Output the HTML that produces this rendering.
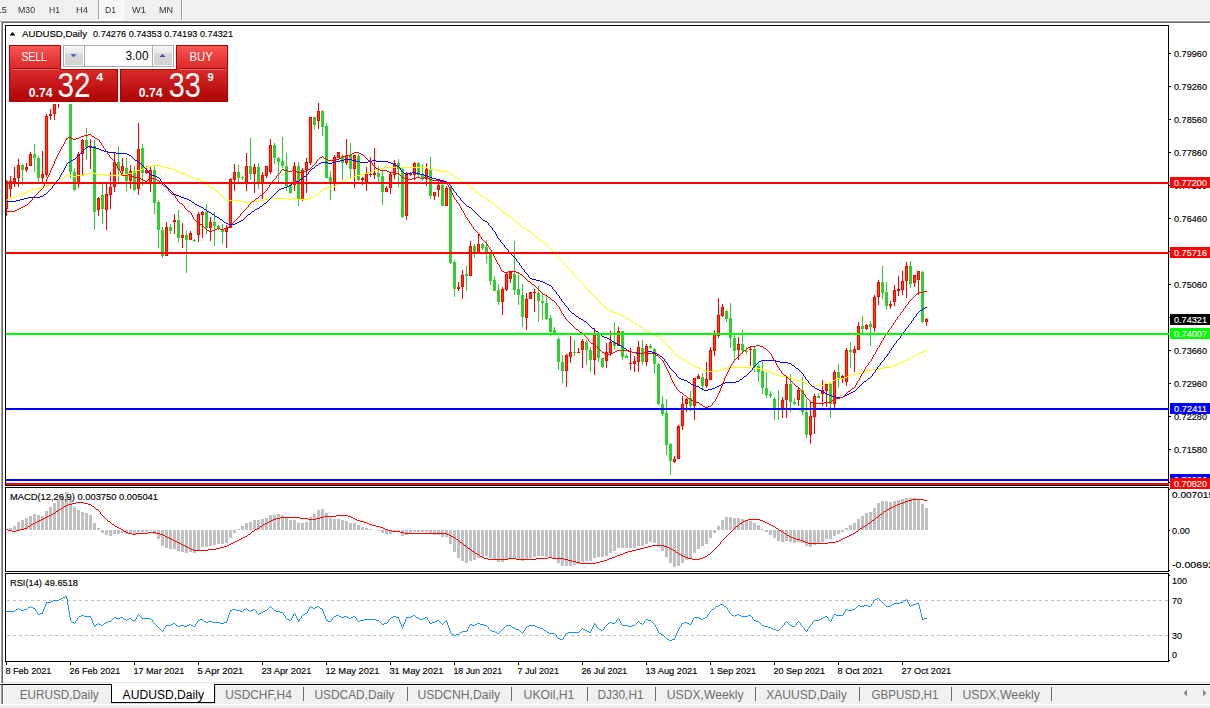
<!DOCTYPE html>
<html><head><meta charset="utf-8"><title>AUDUSD,Daily</title>
<style>
html,body{margin:0;padding:0;background:#F0F0F0;overflow:hidden;}
svg{display:block;font-family:"Liberation Sans",Arial,sans-serif;}
</style></head><body>
<svg width="1210" height="708" viewBox="0 0 1210 708">
<rect x="0" y="0" width="1210" height="708" fill="#F0F0F0"/>
<defs><pattern id="chk" width="2" height="2" patternUnits="userSpaceOnUse"><rect width="2" height="2" fill="#F0F0F0"/><rect width="1" height="1" fill="#fff"/><rect x="1" y="1" width="1" height="1" fill="#fff"/></pattern><linearGradient id="gtab" x1="0" y1="0" x2="0" y2="1"><stop offset="0" stop-color="#F95656"/><stop offset="1" stop-color="#D92424"/></linearGradient><linearGradient id="gbox" x1="0" y1="0" x2="0" y2="1"><stop offset="0" stop-color="#D92A2A"/><stop offset="1" stop-color="#AE0404"/></linearGradient><linearGradient id="gbtn" x1="0" y1="0" x2="0" y2="1"><stop offset="0" stop-color="#F2F2F2"/><stop offset="0.33" stop-color="#EAEAEA"/><stop offset="0.34" stop-color="#DADADA"/><stop offset="1" stop-color="#D2D2D2"/></linearGradient><filter id="gray" x="-10%" y="-10%" width="120%" height="120%"><feColorMatrix type="saturate" values="0"/></filter><linearGradient id="garr" x1="0" y1="0" x2="0" y2="1"><stop offset="0" stop-color="#5A7BE0"/><stop offset="1" stop-color="#2E3F8F"/></linearGradient></defs>
<rect x="99" y="0" width="24" height="19" fill="url(#chk)"/>
<rect x="98" y="0" width="1" height="19" fill="#A0A0A0"/>
<rect x="123" y="0" width="1" height="20" fill="#FFFFFF"/>
<rect x="99" y="19" width="25" height="1" fill="#FFFFFF"/>
<rect x="181" y="0" width="1" height="21" fill="#A0A0A0"/>
<rect x="182" y="0" width="1" height="21" fill="#FFFFFF"/>
<rect x="0" y="20" width="1210" height="1" fill="#F6F6F6"/>
<text x="-11" y="13" font-size="9.5" fill="#333" textLength="18" lengthAdjust="spacingAndGlyphs" filter="url(#gray)">M15</text>
<text x="18" y="13" font-size="9.5" fill="#333" textLength="17" lengthAdjust="spacingAndGlyphs" filter="url(#gray)">M30</text>
<text x="49" y="13" font-size="9.5" fill="#333" textLength="11" lengthAdjust="spacingAndGlyphs" filter="url(#gray)">H1</text>
<text x="76" y="13" font-size="9.5" fill="#333" textLength="12" lengthAdjust="spacingAndGlyphs" filter="url(#gray)">H4</text>
<text x="105" y="13" font-size="9.5" fill="#333" textLength="11" lengthAdjust="spacingAndGlyphs" filter="url(#gray)">D1</text>
<text x="132" y="13" font-size="9.5" fill="#333" textLength="14" lengthAdjust="spacingAndGlyphs" filter="url(#gray)">W1</text>
<text x="159" y="13" font-size="9.5" fill="#333" textLength="14" lengthAdjust="spacingAndGlyphs" filter="url(#gray)">MN</text>
<rect x="0" y="21" width="1210" height="1" fill="#A0A0A0"/>
<rect x="1" y="22" width="1209" height="1" fill="#696969"/>
<rect x="1" y="21" width="1" height="662" fill="#A0A0A0"/>
<rect x="2" y="22" width="1" height="661" fill="#696969"/>
<rect x="0" y="22" width="1" height="662" fill="#FFFFFF"/>
<rect x="3" y="23" width="1207" height="659" fill="#FFFFFF"/>
<rect x="3" y="682" width="1207" height="1" fill="#E3E3E3"/>
<rect x="0" y="683" width="1210" height="1" fill="#FFFFFF"/>
<rect x="5" y="25" width="1164" height="1" fill="#000"/>
<rect x="5" y="25" width="1" height="461" fill="#000"/>
<rect x="1168" y="25" width="1" height="461" fill="#000"/>
<rect x="5" y="485" width="1164" height="1" fill="#000"/>
<rect x="5" y="487" width="1164" height="1" fill="#000"/>
<rect x="5" y="571" width="1164" height="1" fill="#000"/>
<rect x="5" y="487" width="1" height="85" fill="#000"/>
<rect x="1168" y="487" width="1" height="85" fill="#000"/>
<rect x="5" y="573" width="1164" height="1" fill="#000"/>
<rect x="5" y="661" width="1164" height="1" fill="#000"/>
<rect x="5" y="573" width="1" height="89" fill="#000"/>
<rect x="1168" y="573" width="1" height="89" fill="#000"/>
<clipPath id="cmain"><rect x="6" y="26" width="1162" height="459"/></clipPath>
<clipPath id="cmacd"><rect x="6" y="488" width="1162" height="83"/></clipPath>
<clipPath id="crsi"><rect x="6" y="574" width="1162" height="87"/></clipPath>
<g clip-path="url(#cmain)" shape-rendering="crispEdges">
<rect x="6" y="180" width="1" height="36" fill="#FF0000"/>
<rect x="5" y="181" width="3" height="28" fill="#FF0000"/>
<rect x="6" y="182" width="1" height="26" fill="#FF4500"/>
<rect x="10" y="176" width="1" height="21" fill="#FF0000"/>
<rect x="9" y="181" width="3" height="8" fill="#FF0000"/>
<rect x="10" y="182" width="1" height="6" fill="#FF4500"/>
<rect x="14" y="167" width="1" height="20" fill="#FF0000"/>
<rect x="13" y="178" width="3" height="4" fill="#FF0000"/>
<rect x="14" y="179" width="1" height="2" fill="#FF4500"/>
<rect x="18" y="159" width="1" height="28" fill="#FF0000"/>
<rect x="17" y="165" width="3" height="13" fill="#FF0000"/>
<rect x="18" y="166" width="1" height="11" fill="#FF4500"/>
<rect x="22" y="164" width="1" height="21" fill="#32CD32"/>
<rect x="21" y="165" width="3" height="5" fill="#32CD32"/>
<rect x="26" y="163" width="1" height="9" fill="#FF0000"/>
<rect x="25" y="167" width="3" height="3" fill="#FF0000"/>
<rect x="26" y="168" width="1" height="1" fill="#FF4500"/>
<rect x="30" y="152" width="1" height="14" fill="#FF0000"/>
<rect x="29" y="154" width="3" height="12" fill="#FF0000"/>
<rect x="30" y="155" width="1" height="10" fill="#FF4500"/>
<rect x="34" y="144" width="1" height="28" fill="#32CD32"/>
<rect x="33" y="154" width="3" height="4" fill="#32CD32"/>
<rect x="38" y="156" width="1" height="27" fill="#32CD32"/>
<rect x="37" y="158" width="3" height="20" fill="#32CD32"/>
<rect x="42" y="151" width="1" height="33" fill="#FF0000"/>
<rect x="41" y="174" width="3" height="4" fill="#FF0000"/>
<rect x="42" y="175" width="1" height="2" fill="#FF4500"/>
<rect x="46" y="114" width="1" height="63" fill="#FF0000"/>
<rect x="45" y="116" width="3" height="59" fill="#FF0000"/>
<rect x="46" y="117" width="1" height="57" fill="#FF4500"/>
<rect x="50" y="109" width="1" height="11" fill="#FF0000"/>
<rect x="49" y="114" width="3" height="2" fill="#FF0000"/>
<rect x="54" y="100" width="1" height="20" fill="#FF0000"/>
<rect x="53" y="102" width="3" height="12" fill="#FF0000"/>
<rect x="54" y="103" width="1" height="10" fill="#FF4500"/>
<rect x="58" y="95" width="1" height="13" fill="#FF0000"/>
<rect x="57" y="100" width="3" height="3" fill="#FF0000"/>
<rect x="58" y="101" width="1" height="1" fill="#FF4500"/>
<rect x="62" y="76" width="1" height="26" fill="#FF0000"/>
<rect x="61" y="82" width="3" height="18" fill="#FF0000"/>
<rect x="62" y="83" width="1" height="16" fill="#FF4500"/>
<rect x="66" y="60" width="1" height="28" fill="#FF0000"/>
<rect x="65" y="67" width="3" height="15" fill="#FF0000"/>
<rect x="66" y="68" width="1" height="13" fill="#FF4500"/>
<rect x="70" y="60" width="1" height="118" fill="#32CD32"/>
<rect x="69" y="67" width="3" height="105" fill="#32CD32"/>
<rect x="74" y="168" width="1" height="23" fill="#32CD32"/>
<rect x="73" y="172" width="3" height="18" fill="#32CD32"/>
<rect x="78" y="152" width="1" height="36" fill="#FF0000"/>
<rect x="77" y="154" width="3" height="30" fill="#FF0000"/>
<rect x="78" y="155" width="1" height="28" fill="#FF4500"/>
<rect x="82" y="139" width="1" height="37" fill="#FF0000"/>
<rect x="81" y="140" width="3" height="14" fill="#FF0000"/>
<rect x="82" y="141" width="1" height="12" fill="#FF4500"/>
<rect x="86" y="128" width="1" height="32" fill="#32CD32"/>
<rect x="85" y="140" width="3" height="7" fill="#32CD32"/>
<rect x="90" y="139" width="1" height="30" fill="#FF0000"/>
<rect x="89" y="146" width="3" height="2" fill="#FF0000"/>
<rect x="94" y="140" width="1" height="90" fill="#32CD32"/>
<rect x="93" y="146" width="3" height="66" fill="#32CD32"/>
<rect x="98" y="197" width="1" height="19" fill="#FF0000"/>
<rect x="97" y="198" width="3" height="12" fill="#FF0000"/>
<rect x="98" y="199" width="1" height="10" fill="#FF4500"/>
<rect x="102" y="183" width="1" height="41" fill="#32CD32"/>
<rect x="101" y="195" width="3" height="14" fill="#32CD32"/>
<rect x="106" y="183" width="1" height="47" fill="#FF0000"/>
<rect x="105" y="194" width="3" height="16" fill="#FF0000"/>
<rect x="106" y="195" width="1" height="14" fill="#FF4500"/>
<rect x="110" y="172" width="1" height="37" fill="#FF0000"/>
<rect x="109" y="187" width="3" height="8" fill="#FF0000"/>
<rect x="110" y="188" width="1" height="6" fill="#FF4500"/>
<rect x="114" y="153" width="1" height="39" fill="#FF0000"/>
<rect x="113" y="162" width="3" height="25" fill="#FF0000"/>
<rect x="114" y="163" width="1" height="23" fill="#FF4500"/>
<rect x="118" y="146" width="1" height="36" fill="#32CD32"/>
<rect x="117" y="162" width="3" height="8" fill="#32CD32"/>
<rect x="122" y="158" width="1" height="16" fill="#FF0000"/>
<rect x="121" y="166" width="3" height="5" fill="#FF0000"/>
<rect x="122" y="167" width="1" height="3" fill="#FF4500"/>
<rect x="126" y="158" width="1" height="33" fill="#32CD32"/>
<rect x="125" y="168" width="3" height="13" fill="#32CD32"/>
<rect x="130" y="165" width="1" height="24" fill="#FF0000"/>
<rect x="129" y="171" width="3" height="10" fill="#FF0000"/>
<rect x="130" y="172" width="1" height="8" fill="#FF4500"/>
<rect x="134" y="166" width="1" height="25" fill="#32CD32"/>
<rect x="133" y="171" width="3" height="19" fill="#32CD32"/>
<rect x="138" y="123" width="1" height="72" fill="#FF0000"/>
<rect x="137" y="149" width="3" height="40" fill="#FF0000"/>
<rect x="138" y="150" width="1" height="38" fill="#FF4500"/>
<rect x="142" y="144" width="1" height="42" fill="#32CD32"/>
<rect x="141" y="148" width="3" height="25" fill="#32CD32"/>
<rect x="146" y="166" width="1" height="8" fill="#FF0000"/>
<rect x="145" y="170" width="3" height="3" fill="#FF0000"/>
<rect x="146" y="171" width="1" height="1" fill="#FF4500"/>
<rect x="150" y="167" width="1" height="25" fill="#FF0000"/>
<rect x="149" y="170" width="3" height="13" fill="#FF0000"/>
<rect x="150" y="171" width="1" height="11" fill="#FF4500"/>
<rect x="154" y="166" width="1" height="48" fill="#32CD32"/>
<rect x="153" y="170" width="3" height="33" fill="#32CD32"/>
<rect x="158" y="200" width="1" height="48" fill="#32CD32"/>
<rect x="157" y="202" width="3" height="28" fill="#32CD32"/>
<rect x="162" y="227" width="1" height="31" fill="#32CD32"/>
<rect x="161" y="230" width="3" height="26" fill="#32CD32"/>
<rect x="166" y="222" width="1" height="34" fill="#FF0000"/>
<rect x="165" y="227" width="3" height="29" fill="#FF0000"/>
<rect x="166" y="228" width="1" height="27" fill="#FF4500"/>
<rect x="170" y="224" width="1" height="10" fill="#32CD32"/>
<rect x="169" y="227" width="3" height="4" fill="#32CD32"/>
<rect x="174" y="214" width="1" height="20" fill="#FF0000"/>
<rect x="173" y="220" width="3" height="2" fill="#FF0000"/>
<rect x="178" y="210" width="1" height="32" fill="#32CD32"/>
<rect x="177" y="220" width="3" height="18" fill="#32CD32"/>
<rect x="182" y="223" width="1" height="25" fill="#FF0000"/>
<rect x="181" y="235" width="3" height="3" fill="#FF0000"/>
<rect x="182" y="236" width="1" height="1" fill="#FF4500"/>
<rect x="186" y="231" width="1" height="42" fill="#32CD32"/>
<rect x="185" y="235" width="3" height="5" fill="#32CD32"/>
<rect x="190" y="231" width="1" height="9" fill="#FF0000"/>
<rect x="189" y="233" width="3" height="7" fill="#FF0000"/>
<rect x="190" y="234" width="1" height="5" fill="#FF4500"/>
<rect x="194" y="239" width="1" height="3" fill="#32CD32"/>
<rect x="193" y="240" width="3" height="1" fill="#32CD32"/>
<rect x="198" y="212" width="1" height="30" fill="#FF0000"/>
<rect x="197" y="214" width="3" height="21" fill="#FF0000"/>
<rect x="198" y="215" width="1" height="19" fill="#FF4500"/>
<rect x="202" y="211" width="1" height="27" fill="#FF0000"/>
<rect x="201" y="212" width="3" height="3" fill="#FF0000"/>
<rect x="202" y="213" width="1" height="1" fill="#FF4500"/>
<rect x="206" y="204" width="1" height="30" fill="#32CD32"/>
<rect x="205" y="212" width="3" height="16" fill="#32CD32"/>
<rect x="210" y="217" width="1" height="24" fill="#FF0000"/>
<rect x="209" y="222" width="3" height="6" fill="#FF0000"/>
<rect x="210" y="223" width="1" height="4" fill="#FF4500"/>
<rect x="214" y="212" width="1" height="34" fill="#32CD32"/>
<rect x="213" y="222" width="3" height="4" fill="#32CD32"/>
<rect x="218" y="225" width="1" height="5" fill="#32CD32"/>
<rect x="217" y="226" width="3" height="3" fill="#32CD32"/>
<rect x="222" y="224" width="1" height="20" fill="#32CD32"/>
<rect x="221" y="230" width="3" height="2" fill="#32CD32"/>
<rect x="226" y="225" width="1" height="23" fill="#FF0000"/>
<rect x="225" y="228" width="3" height="4" fill="#FF0000"/>
<rect x="226" y="229" width="1" height="2" fill="#FF4500"/>
<rect x="230" y="178" width="1" height="50" fill="#FF0000"/>
<rect x="229" y="179" width="3" height="49" fill="#FF0000"/>
<rect x="230" y="180" width="1" height="47" fill="#FF4500"/>
<rect x="234" y="164" width="1" height="27" fill="#FF0000"/>
<rect x="233" y="172" width="3" height="8" fill="#FF0000"/>
<rect x="234" y="173" width="1" height="6" fill="#FF4500"/>
<rect x="238" y="165" width="1" height="17" fill="#32CD32"/>
<rect x="237" y="172" width="3" height="6" fill="#32CD32"/>
<rect x="242" y="176" width="1" height="4" fill="#32CD32"/>
<rect x="241" y="177" width="3" height="1" fill="#32CD32"/>
<rect x="246" y="153" width="1" height="38" fill="#FF0000"/>
<rect x="245" y="166" width="3" height="16" fill="#FF0000"/>
<rect x="246" y="167" width="1" height="14" fill="#FF4500"/>
<rect x="250" y="138" width="1" height="42" fill="#32CD32"/>
<rect x="249" y="166" width="3" height="8" fill="#32CD32"/>
<rect x="254" y="164" width="1" height="29" fill="#FF0000"/>
<rect x="253" y="167" width="3" height="7" fill="#FF0000"/>
<rect x="254" y="168" width="1" height="5" fill="#FF4500"/>
<rect x="258" y="163" width="1" height="26" fill="#32CD32"/>
<rect x="257" y="167" width="3" height="16" fill="#32CD32"/>
<rect x="262" y="172" width="1" height="27" fill="#FF0000"/>
<rect x="261" y="175" width="3" height="9" fill="#FF0000"/>
<rect x="262" y="176" width="1" height="7" fill="#FF4500"/>
<rect x="266" y="166" width="1" height="12" fill="#FF0000"/>
<rect x="265" y="166" width="3" height="10" fill="#FF0000"/>
<rect x="266" y="167" width="1" height="8" fill="#FF4500"/>
<rect x="270" y="139" width="1" height="35" fill="#FF0000"/>
<rect x="269" y="145" width="3" height="27" fill="#FF0000"/>
<rect x="270" y="146" width="1" height="25" fill="#FF4500"/>
<rect x="274" y="143" width="1" height="21" fill="#32CD32"/>
<rect x="273" y="145" width="3" height="13" fill="#32CD32"/>
<rect x="278" y="157" width="1" height="25" fill="#32CD32"/>
<rect x="277" y="158" width="3" height="4" fill="#32CD32"/>
<rect x="282" y="137" width="1" height="31" fill="#32CD32"/>
<rect x="281" y="161" width="3" height="5" fill="#32CD32"/>
<rect x="286" y="153" width="1" height="38" fill="#32CD32"/>
<rect x="285" y="166" width="3" height="20" fill="#32CD32"/>
<rect x="290" y="184" width="1" height="10" fill="#32CD32"/>
<rect x="289" y="185" width="3" height="8" fill="#32CD32"/>
<rect x="294" y="162" width="1" height="29" fill="#FF0000"/>
<rect x="293" y="166" width="3" height="19" fill="#FF0000"/>
<rect x="294" y="167" width="1" height="17" fill="#FF4500"/>
<rect x="298" y="162" width="1" height="44" fill="#32CD32"/>
<rect x="297" y="166" width="3" height="34" fill="#32CD32"/>
<rect x="302" y="168" width="1" height="33" fill="#FF0000"/>
<rect x="301" y="170" width="3" height="30" fill="#FF0000"/>
<rect x="302" y="171" width="1" height="28" fill="#FF4500"/>
<rect x="306" y="158" width="1" height="35" fill="#FF0000"/>
<rect x="305" y="162" width="3" height="8" fill="#FF0000"/>
<rect x="306" y="163" width="1" height="6" fill="#FF4500"/>
<rect x="310" y="117" width="1" height="48" fill="#FF0000"/>
<rect x="309" y="117" width="3" height="46" fill="#FF0000"/>
<rect x="310" y="118" width="1" height="44" fill="#FF4500"/>
<rect x="314" y="117" width="1" height="12" fill="#32CD32"/>
<rect x="313" y="117" width="3" height="8" fill="#32CD32"/>
<rect x="318" y="103" width="1" height="26" fill="#FF0000"/>
<rect x="317" y="111" width="3" height="10" fill="#FF0000"/>
<rect x="318" y="112" width="1" height="8" fill="#FF4500"/>
<rect x="322" y="110" width="1" height="26" fill="#32CD32"/>
<rect x="321" y="111" width="3" height="16" fill="#32CD32"/>
<rect x="326" y="123" width="1" height="55" fill="#32CD32"/>
<rect x="325" y="126" width="3" height="52" fill="#32CD32"/>
<rect x="330" y="171" width="1" height="29" fill="#32CD32"/>
<rect x="329" y="177" width="3" height="7" fill="#32CD32"/>
<rect x="334" y="155" width="1" height="36" fill="#FF0000"/>
<rect x="333" y="157" width="3" height="26" fill="#FF0000"/>
<rect x="334" y="158" width="1" height="24" fill="#FF4500"/>
<rect x="338" y="152" width="1" height="6" fill="#FF0000"/>
<rect x="337" y="152" width="3" height="6" fill="#FF0000"/>
<rect x="338" y="153" width="1" height="4" fill="#FF4500"/>
<rect x="342" y="154" width="1" height="26" fill="#32CD32"/>
<rect x="341" y="156" width="3" height="7" fill="#32CD32"/>
<rect x="346" y="139" width="1" height="26" fill="#FF0000"/>
<rect x="345" y="155" width="3" height="8" fill="#FF0000"/>
<rect x="346" y="156" width="1" height="6" fill="#FF4500"/>
<rect x="350" y="143" width="1" height="35" fill="#32CD32"/>
<rect x="349" y="155" width="3" height="14" fill="#32CD32"/>
<rect x="354" y="155" width="1" height="33" fill="#FF0000"/>
<rect x="353" y="155" width="3" height="14" fill="#FF0000"/>
<rect x="354" y="156" width="1" height="12" fill="#FF4500"/>
<rect x="358" y="154" width="1" height="27" fill="#32CD32"/>
<rect x="357" y="156" width="3" height="24" fill="#32CD32"/>
<rect x="362" y="177" width="1" height="8" fill="#FF0000"/>
<rect x="361" y="178" width="3" height="2" fill="#FF0000"/>
<rect x="366" y="167" width="1" height="24" fill="#FF0000"/>
<rect x="365" y="174" width="3" height="8" fill="#FF0000"/>
<rect x="366" y="175" width="1" height="6" fill="#FF4500"/>
<rect x="370" y="157" width="1" height="20" fill="#FF0000"/>
<rect x="369" y="174" width="3" height="1" fill="#FF0000"/>
<rect x="374" y="148" width="1" height="31" fill="#FF0000"/>
<rect x="373" y="173" width="3" height="2" fill="#FF0000"/>
<rect x="378" y="166" width="1" height="17" fill="#32CD32"/>
<rect x="377" y="173" width="3" height="4" fill="#32CD32"/>
<rect x="382" y="171" width="1" height="34" fill="#32CD32"/>
<rect x="381" y="176" width="3" height="16" fill="#32CD32"/>
<rect x="386" y="186" width="1" height="6" fill="#FF0000"/>
<rect x="385" y="188" width="3" height="4" fill="#FF0000"/>
<rect x="386" y="189" width="1" height="2" fill="#FF4500"/>
<rect x="390" y="172" width="1" height="22" fill="#FF0000"/>
<rect x="389" y="174" width="3" height="14" fill="#FF0000"/>
<rect x="390" y="175" width="1" height="12" fill="#FF4500"/>
<rect x="394" y="160" width="1" height="19" fill="#FF0000"/>
<rect x="393" y="163" width="3" height="12" fill="#FF0000"/>
<rect x="394" y="164" width="1" height="10" fill="#FF4500"/>
<rect x="398" y="159" width="1" height="28" fill="#32CD32"/>
<rect x="397" y="163" width="3" height="6" fill="#32CD32"/>
<rect x="402" y="167" width="1" height="51" fill="#32CD32"/>
<rect x="401" y="169" width="3" height="48" fill="#32CD32"/>
<rect x="406" y="172" width="1" height="48" fill="#FF0000"/>
<rect x="405" y="173" width="3" height="43" fill="#FF0000"/>
<rect x="406" y="174" width="1" height="41" fill="#FF4500"/>
<rect x="410" y="172" width="1" height="4" fill="#FF0000"/>
<rect x="409" y="173" width="3" height="2" fill="#FF0000"/>
<rect x="414" y="162" width="1" height="18" fill="#FF0000"/>
<rect x="413" y="163" width="3" height="12" fill="#FF0000"/>
<rect x="414" y="164" width="1" height="10" fill="#FF4500"/>
<rect x="418" y="162" width="1" height="16" fill="#32CD32"/>
<rect x="417" y="163" width="3" height="12" fill="#32CD32"/>
<rect x="422" y="164" width="1" height="17" fill="#32CD32"/>
<rect x="421" y="174" width="3" height="5" fill="#32CD32"/>
<rect x="426" y="163" width="1" height="23" fill="#FF0000"/>
<rect x="425" y="169" width="3" height="10" fill="#FF0000"/>
<rect x="426" y="170" width="1" height="8" fill="#FF4500"/>
<rect x="430" y="157" width="1" height="42" fill="#32CD32"/>
<rect x="429" y="169" width="3" height="27" fill="#32CD32"/>
<rect x="434" y="192" width="1" height="8" fill="#FF0000"/>
<rect x="433" y="192" width="3" height="4" fill="#FF0000"/>
<rect x="434" y="193" width="1" height="2" fill="#FF4500"/>
<rect x="438" y="181" width="1" height="16" fill="#FF0000"/>
<rect x="437" y="185" width="3" height="5" fill="#FF0000"/>
<rect x="438" y="186" width="1" height="3" fill="#FF4500"/>
<rect x="442" y="184" width="1" height="22" fill="#32CD32"/>
<rect x="441" y="185" width="3" height="21" fill="#32CD32"/>
<rect x="446" y="186" width="1" height="20" fill="#FF0000"/>
<rect x="445" y="188" width="3" height="18" fill="#FF0000"/>
<rect x="446" y="189" width="1" height="16" fill="#FF4500"/>
<rect x="450" y="186" width="1" height="78" fill="#32CD32"/>
<rect x="449" y="188" width="3" height="75" fill="#32CD32"/>
<rect x="454" y="260" width="1" height="37" fill="#32CD32"/>
<rect x="453" y="262" width="3" height="27" fill="#32CD32"/>
<rect x="458" y="282" width="1" height="9" fill="#FF0000"/>
<rect x="457" y="287" width="3" height="2" fill="#FF0000"/>
<rect x="462" y="270" width="1" height="29" fill="#FF0000"/>
<rect x="461" y="275" width="3" height="12" fill="#FF0000"/>
<rect x="462" y="276" width="1" height="10" fill="#FF4500"/>
<rect x="466" y="266" width="1" height="25" fill="#32CD32"/>
<rect x="465" y="274" width="3" height="2" fill="#32CD32"/>
<rect x="470" y="241" width="1" height="35" fill="#FF0000"/>
<rect x="469" y="246" width="3" height="30" fill="#FF0000"/>
<rect x="470" y="247" width="1" height="28" fill="#FF4500"/>
<rect x="474" y="244" width="1" height="14" fill="#32CD32"/>
<rect x="473" y="246" width="3" height="7" fill="#32CD32"/>
<rect x="478" y="233" width="1" height="20" fill="#FF0000"/>
<rect x="477" y="244" width="3" height="9" fill="#FF0000"/>
<rect x="478" y="245" width="1" height="7" fill="#FF4500"/>
<rect x="482" y="243" width="1" height="7" fill="#32CD32"/>
<rect x="481" y="244" width="3" height="4" fill="#32CD32"/>
<rect x="486" y="240" width="1" height="23" fill="#32CD32"/>
<rect x="485" y="247" width="3" height="7" fill="#32CD32"/>
<rect x="490" y="253" width="1" height="32" fill="#32CD32"/>
<rect x="489" y="253" width="3" height="28" fill="#32CD32"/>
<rect x="494" y="276" width="1" height="15" fill="#32CD32"/>
<rect x="493" y="280" width="3" height="11" fill="#32CD32"/>
<rect x="498" y="284" width="1" height="21" fill="#32CD32"/>
<rect x="497" y="290" width="3" height="12" fill="#32CD32"/>
<rect x="502" y="287" width="1" height="28" fill="#FF0000"/>
<rect x="501" y="289" width="3" height="13" fill="#FF0000"/>
<rect x="502" y="290" width="1" height="11" fill="#FF4500"/>
<rect x="506" y="273" width="1" height="18" fill="#FF0000"/>
<rect x="505" y="274" width="3" height="16" fill="#FF0000"/>
<rect x="506" y="275" width="1" height="14" fill="#FF4500"/>
<rect x="510" y="272" width="1" height="11" fill="#FF0000"/>
<rect x="509" y="272" width="3" height="7" fill="#FF0000"/>
<rect x="510" y="273" width="1" height="5" fill="#FF4500"/>
<rect x="514" y="241" width="1" height="54" fill="#32CD32"/>
<rect x="513" y="274" width="3" height="16" fill="#32CD32"/>
<rect x="518" y="272" width="1" height="33" fill="#32CD32"/>
<rect x="517" y="289" width="3" height="6" fill="#32CD32"/>
<rect x="522" y="284" width="1" height="43" fill="#32CD32"/>
<rect x="521" y="295" width="3" height="22" fill="#32CD32"/>
<rect x="526" y="293" width="1" height="37" fill="#FF0000"/>
<rect x="525" y="299" width="3" height="19" fill="#FF0000"/>
<rect x="526" y="300" width="1" height="17" fill="#FF4500"/>
<rect x="530" y="292" width="1" height="7" fill="#FF0000"/>
<rect x="529" y="292" width="3" height="7" fill="#FF0000"/>
<rect x="530" y="293" width="1" height="5" fill="#FF4500"/>
<rect x="534" y="289" width="1" height="23" fill="#FF0000"/>
<rect x="533" y="292" width="3" height="1" fill="#FF0000"/>
<rect x="538" y="286" width="1" height="36" fill="#32CD32"/>
<rect x="537" y="293" width="3" height="8" fill="#32CD32"/>
<rect x="542" y="294" width="1" height="26" fill="#32CD32"/>
<rect x="541" y="301" width="3" height="2" fill="#32CD32"/>
<rect x="546" y="294" width="1" height="26" fill="#32CD32"/>
<rect x="545" y="303" width="3" height="16" fill="#32CD32"/>
<rect x="550" y="315" width="1" height="21" fill="#32CD32"/>
<rect x="549" y="318" width="3" height="14" fill="#32CD32"/>
<rect x="554" y="327" width="1" height="8" fill="#32CD32"/>
<rect x="553" y="330" width="3" height="4" fill="#32CD32"/>
<rect x="558" y="337" width="1" height="33" fill="#32CD32"/>
<rect x="557" y="339" width="3" height="23" fill="#32CD32"/>
<rect x="562" y="355" width="1" height="28" fill="#32CD32"/>
<rect x="561" y="362" width="3" height="9" fill="#32CD32"/>
<rect x="566" y="354" width="1" height="33" fill="#FF0000"/>
<rect x="565" y="355" width="3" height="16" fill="#FF0000"/>
<rect x="566" y="356" width="1" height="14" fill="#FF4500"/>
<rect x="570" y="336" width="1" height="27" fill="#FF0000"/>
<rect x="569" y="352" width="3" height="5" fill="#FF0000"/>
<rect x="570" y="353" width="1" height="3" fill="#FF4500"/>
<rect x="574" y="340" width="1" height="16" fill="#32CD32"/>
<rect x="573" y="352" width="3" height="1" fill="#32CD32"/>
<rect x="578" y="348" width="1" height="5" fill="#FF0000"/>
<rect x="577" y="352" width="3" height="1" fill="#FF0000"/>
<rect x="582" y="339" width="1" height="29" fill="#FF0000"/>
<rect x="581" y="341" width="3" height="9" fill="#FF0000"/>
<rect x="582" y="342" width="1" height="7" fill="#FF4500"/>
<rect x="586" y="340" width="1" height="25" fill="#32CD32"/>
<rect x="585" y="342" width="3" height="8" fill="#32CD32"/>
<rect x="590" y="347" width="1" height="25" fill="#32CD32"/>
<rect x="589" y="350" width="3" height="10" fill="#32CD32"/>
<rect x="594" y="328" width="1" height="47" fill="#FF0000"/>
<rect x="593" y="334" width="3" height="26" fill="#FF0000"/>
<rect x="594" y="335" width="1" height="24" fill="#FF4500"/>
<rect x="598" y="332" width="1" height="30" fill="#32CD32"/>
<rect x="597" y="334" width="3" height="24" fill="#32CD32"/>
<rect x="602" y="358" width="1" height="10" fill="#32CD32"/>
<rect x="601" y="358" width="3" height="9" fill="#32CD32"/>
<rect x="606" y="343" width="1" height="25" fill="#FF0000"/>
<rect x="605" y="352" width="3" height="9" fill="#FF0000"/>
<rect x="606" y="353" width="1" height="7" fill="#FF4500"/>
<rect x="610" y="331" width="1" height="25" fill="#FF0000"/>
<rect x="609" y="342" width="3" height="11" fill="#FF0000"/>
<rect x="610" y="343" width="1" height="9" fill="#FF4500"/>
<rect x="614" y="322" width="1" height="28" fill="#32CD32"/>
<rect x="613" y="342" width="3" height="4" fill="#32CD32"/>
<rect x="618" y="327" width="1" height="19" fill="#FF0000"/>
<rect x="617" y="331" width="3" height="15" fill="#FF0000"/>
<rect x="618" y="332" width="1" height="13" fill="#FF4500"/>
<rect x="622" y="331" width="1" height="29" fill="#32CD32"/>
<rect x="621" y="331" width="3" height="26" fill="#32CD32"/>
<rect x="626" y="354" width="1" height="4" fill="#32CD32"/>
<rect x="625" y="356" width="3" height="2" fill="#32CD32"/>
<rect x="630" y="348" width="1" height="22" fill="#FF0000"/>
<rect x="629" y="363" width="3" height="1" fill="#FF0000"/>
<rect x="634" y="356" width="1" height="16" fill="#FF0000"/>
<rect x="633" y="361" width="3" height="3" fill="#FF0000"/>
<rect x="634" y="362" width="1" height="1" fill="#FF4500"/>
<rect x="638" y="341" width="1" height="31" fill="#FF0000"/>
<rect x="637" y="347" width="3" height="15" fill="#FF0000"/>
<rect x="638" y="348" width="1" height="13" fill="#FF4500"/>
<rect x="642" y="340" width="1" height="25" fill="#32CD32"/>
<rect x="641" y="348" width="3" height="14" fill="#32CD32"/>
<rect x="646" y="344" width="1" height="22" fill="#FF0000"/>
<rect x="645" y="346" width="3" height="16" fill="#FF0000"/>
<rect x="646" y="347" width="1" height="14" fill="#FF4500"/>
<rect x="650" y="344" width="1" height="5" fill="#32CD32"/>
<rect x="649" y="346" width="3" height="2" fill="#32CD32"/>
<rect x="654" y="348" width="1" height="26" fill="#32CD32"/>
<rect x="653" y="349" width="3" height="15" fill="#32CD32"/>
<rect x="658" y="363" width="1" height="42" fill="#32CD32"/>
<rect x="657" y="364" width="3" height="40" fill="#32CD32"/>
<rect x="662" y="396" width="1" height="20" fill="#32CD32"/>
<rect x="661" y="404" width="3" height="10" fill="#32CD32"/>
<rect x="666" y="399" width="1" height="56" fill="#32CD32"/>
<rect x="665" y="413" width="3" height="32" fill="#32CD32"/>
<rect x="670" y="443" width="1" height="32" fill="#32CD32"/>
<rect x="669" y="444" width="3" height="17" fill="#32CD32"/>
<rect x="674" y="456" width="1" height="7" fill="#FF0000"/>
<rect x="673" y="459" width="3" height="3" fill="#FF0000"/>
<rect x="674" y="460" width="1" height="1" fill="#FF4500"/>
<rect x="678" y="425" width="1" height="34" fill="#FF0000"/>
<rect x="677" y="426" width="3" height="33" fill="#FF0000"/>
<rect x="678" y="427" width="1" height="31" fill="#FF4500"/>
<rect x="682" y="396" width="1" height="34" fill="#FF0000"/>
<rect x="681" y="404" width="3" height="22" fill="#FF0000"/>
<rect x="682" y="405" width="1" height="20" fill="#FF4500"/>
<rect x="686" y="398" width="1" height="14" fill="#FF0000"/>
<rect x="685" y="399" width="3" height="5" fill="#FF0000"/>
<rect x="686" y="400" width="1" height="3" fill="#FF4500"/>
<rect x="690" y="391" width="1" height="20" fill="#32CD32"/>
<rect x="689" y="398" width="3" height="8" fill="#32CD32"/>
<rect x="694" y="378" width="1" height="42" fill="#FF0000"/>
<rect x="693" y="378" width="3" height="28" fill="#FF0000"/>
<rect x="694" y="379" width="1" height="26" fill="#FF4500"/>
<rect x="698" y="374" width="1" height="5" fill="#FF0000"/>
<rect x="697" y="376" width="3" height="3" fill="#FF0000"/>
<rect x="698" y="377" width="1" height="1" fill="#FF4500"/>
<rect x="702" y="373" width="1" height="17" fill="#32CD32"/>
<rect x="701" y="377" width="3" height="9" fill="#32CD32"/>
<rect x="706" y="362" width="1" height="26" fill="#FF0000"/>
<rect x="705" y="379" width="3" height="7" fill="#FF0000"/>
<rect x="706" y="380" width="1" height="5" fill="#FF4500"/>
<rect x="710" y="347" width="1" height="33" fill="#FF0000"/>
<rect x="709" y="350" width="3" height="30" fill="#FF0000"/>
<rect x="710" y="351" width="1" height="28" fill="#FF4500"/>
<rect x="714" y="330" width="1" height="26" fill="#FF0000"/>
<rect x="713" y="334" width="3" height="17" fill="#FF0000"/>
<rect x="714" y="335" width="1" height="15" fill="#FF4500"/>
<rect x="718" y="298" width="1" height="40" fill="#FF0000"/>
<rect x="717" y="315" width="3" height="21" fill="#FF0000"/>
<rect x="718" y="316" width="1" height="19" fill="#FF4500"/>
<rect x="722" y="304" width="1" height="13" fill="#FF0000"/>
<rect x="721" y="307" width="3" height="9" fill="#FF0000"/>
<rect x="722" y="308" width="1" height="7" fill="#FF4500"/>
<rect x="726" y="310" width="1" height="12" fill="#32CD32"/>
<rect x="725" y="311" width="3" height="8" fill="#32CD32"/>
<rect x="730" y="303" width="1" height="45" fill="#32CD32"/>
<rect x="729" y="318" width="3" height="20" fill="#32CD32"/>
<rect x="734" y="333" width="1" height="28" fill="#32CD32"/>
<rect x="733" y="338" width="3" height="13" fill="#32CD32"/>
<rect x="738" y="337" width="1" height="23" fill="#FF0000"/>
<rect x="737" y="344" width="3" height="6" fill="#FF0000"/>
<rect x="738" y="345" width="1" height="4" fill="#FF4500"/>
<rect x="742" y="330" width="1" height="24" fill="#32CD32"/>
<rect x="741" y="344" width="3" height="7" fill="#32CD32"/>
<rect x="746" y="347" width="1" height="7" fill="#32CD32"/>
<rect x="745" y="351" width="3" height="1" fill="#32CD32"/>
<rect x="750" y="346" width="1" height="20" fill="#FF0000"/>
<rect x="749" y="349" width="3" height="1" fill="#FF0000"/>
<rect x="754" y="347" width="1" height="25" fill="#32CD32"/>
<rect x="753" y="349" width="3" height="18" fill="#32CD32"/>
<rect x="758" y="364" width="1" height="18" fill="#32CD32"/>
<rect x="757" y="366" width="3" height="6" fill="#32CD32"/>
<rect x="762" y="360" width="1" height="34" fill="#32CD32"/>
<rect x="761" y="371" width="3" height="17" fill="#32CD32"/>
<rect x="766" y="372" width="1" height="26" fill="#32CD32"/>
<rect x="765" y="388" width="3" height="7" fill="#32CD32"/>
<rect x="770" y="391" width="1" height="7" fill="#32CD32"/>
<rect x="769" y="394" width="3" height="2" fill="#32CD32"/>
<rect x="774" y="397" width="1" height="23" fill="#32CD32"/>
<rect x="773" y="399" width="3" height="9" fill="#32CD32"/>
<rect x="778" y="390" width="1" height="30" fill="#32CD32"/>
<rect x="777" y="408" width="3" height="2" fill="#32CD32"/>
<rect x="782" y="397" width="1" height="21" fill="#FF0000"/>
<rect x="781" y="400" width="3" height="10" fill="#FF0000"/>
<rect x="782" y="401" width="1" height="8" fill="#FF4500"/>
<rect x="786" y="376" width="1" height="42" fill="#FF0000"/>
<rect x="785" y="384" width="3" height="16" fill="#FF0000"/>
<rect x="786" y="385" width="1" height="14" fill="#FF4500"/>
<rect x="790" y="374" width="1" height="38" fill="#32CD32"/>
<rect x="789" y="384" width="3" height="18" fill="#32CD32"/>
<rect x="794" y="398" width="1" height="7" fill="#32CD32"/>
<rect x="793" y="402" width="3" height="2" fill="#32CD32"/>
<rect x="798" y="387" width="1" height="19" fill="#FF0000"/>
<rect x="797" y="390" width="3" height="10" fill="#FF0000"/>
<rect x="798" y="391" width="1" height="8" fill="#FF4500"/>
<rect x="802" y="377" width="1" height="38" fill="#32CD32"/>
<rect x="801" y="390" width="3" height="22" fill="#32CD32"/>
<rect x="806" y="399" width="1" height="39" fill="#32CD32"/>
<rect x="805" y="412" width="3" height="23" fill="#32CD32"/>
<rect x="810" y="402" width="1" height="42" fill="#FF0000"/>
<rect x="809" y="416" width="3" height="19" fill="#FF0000"/>
<rect x="810" y="417" width="1" height="17" fill="#FF4500"/>
<rect x="814" y="394" width="1" height="40" fill="#FF0000"/>
<rect x="813" y="396" width="3" height="21" fill="#FF0000"/>
<rect x="814" y="397" width="1" height="19" fill="#FF4500"/>
<rect x="818" y="393" width="1" height="5" fill="#32CD32"/>
<rect x="817" y="396" width="3" height="2" fill="#32CD32"/>
<rect x="822" y="380" width="1" height="26" fill="#FF0000"/>
<rect x="821" y="390" width="3" height="4" fill="#FF0000"/>
<rect x="822" y="391" width="1" height="2" fill="#FF4500"/>
<rect x="826" y="383" width="1" height="24" fill="#FF0000"/>
<rect x="825" y="384" width="3" height="7" fill="#FF0000"/>
<rect x="826" y="385" width="1" height="5" fill="#FF4500"/>
<rect x="830" y="382" width="1" height="36" fill="#32CD32"/>
<rect x="829" y="384" width="3" height="20" fill="#32CD32"/>
<rect x="834" y="370" width="1" height="38" fill="#FF0000"/>
<rect x="833" y="372" width="3" height="32" fill="#FF0000"/>
<rect x="834" y="373" width="1" height="30" fill="#FF4500"/>
<rect x="838" y="364" width="1" height="24" fill="#32CD32"/>
<rect x="837" y="372" width="3" height="6" fill="#32CD32"/>
<rect x="842" y="375" width="1" height="8" fill="#FF0000"/>
<rect x="841" y="376" width="3" height="2" fill="#FF0000"/>
<rect x="846" y="348" width="1" height="38" fill="#FF0000"/>
<rect x="845" y="350" width="3" height="32" fill="#FF0000"/>
<rect x="846" y="351" width="1" height="30" fill="#FF4500"/>
<rect x="850" y="342" width="1" height="26" fill="#32CD32"/>
<rect x="849" y="350" width="3" height="2" fill="#32CD32"/>
<rect x="854" y="346" width="1" height="26" fill="#FF0000"/>
<rect x="853" y="349" width="3" height="4" fill="#FF0000"/>
<rect x="854" y="350" width="1" height="2" fill="#FF4500"/>
<rect x="858" y="322" width="1" height="28" fill="#FF0000"/>
<rect x="857" y="326" width="3" height="24" fill="#FF0000"/>
<rect x="858" y="327" width="1" height="22" fill="#FF4500"/>
<rect x="862" y="316" width="1" height="18" fill="#32CD32"/>
<rect x="861" y="326" width="3" height="3" fill="#32CD32"/>
<rect x="866" y="324" width="1" height="6" fill="#FF0000"/>
<rect x="865" y="325" width="3" height="4" fill="#FF0000"/>
<rect x="866" y="326" width="1" height="2" fill="#FF4500"/>
<rect x="870" y="321" width="1" height="25" fill="#32CD32"/>
<rect x="869" y="324" width="3" height="3" fill="#32CD32"/>
<rect x="874" y="295" width="1" height="37" fill="#FF0000"/>
<rect x="873" y="297" width="3" height="31" fill="#FF0000"/>
<rect x="874" y="298" width="1" height="29" fill="#FF4500"/>
<rect x="878" y="280" width="1" height="25" fill="#FF0000"/>
<rect x="877" y="282" width="3" height="15" fill="#FF0000"/>
<rect x="878" y="283" width="1" height="13" fill="#FF4500"/>
<rect x="882" y="266" width="1" height="33" fill="#32CD32"/>
<rect x="881" y="282" width="3" height="11" fill="#32CD32"/>
<rect x="886" y="282" width="1" height="28" fill="#32CD32"/>
<rect x="885" y="292" width="3" height="14" fill="#32CD32"/>
<rect x="890" y="301" width="1" height="8" fill="#FF0000"/>
<rect x="889" y="304" width="3" height="2" fill="#FF0000"/>
<rect x="894" y="285" width="1" height="21" fill="#FF0000"/>
<rect x="893" y="290" width="3" height="12" fill="#FF0000"/>
<rect x="894" y="291" width="1" height="10" fill="#FF4500"/>
<rect x="898" y="276" width="1" height="20" fill="#FF0000"/>
<rect x="897" y="289" width="3" height="2" fill="#FF0000"/>
<rect x="902" y="271" width="1" height="24" fill="#FF0000"/>
<rect x="901" y="281" width="3" height="9" fill="#FF0000"/>
<rect x="902" y="282" width="1" height="7" fill="#FF4500"/>
<rect x="906" y="262" width="1" height="36" fill="#FF0000"/>
<rect x="905" y="266" width="3" height="15" fill="#FF0000"/>
<rect x="906" y="267" width="1" height="13" fill="#FF4500"/>
<rect x="910" y="261" width="1" height="27" fill="#32CD32"/>
<rect x="909" y="266" width="3" height="18" fill="#32CD32"/>
<rect x="914" y="275" width="1" height="12" fill="#FF0000"/>
<rect x="913" y="275" width="3" height="8" fill="#FF0000"/>
<rect x="914" y="276" width="1" height="6" fill="#FF4500"/>
<rect x="918" y="271" width="1" height="24" fill="#FF0000"/>
<rect x="917" y="271" width="3" height="9" fill="#FF0000"/>
<rect x="918" y="272" width="1" height="7" fill="#FF4500"/>
<rect x="922" y="271" width="1" height="52" fill="#32CD32"/>
<rect x="921" y="272" width="3" height="50" fill="#32CD32"/>
<rect x="926" y="318" width="1" height="8" fill="#FF0000"/>
<rect x="925" y="319" width="3" height="3" fill="#FF0000"/>
<rect x="926" y="320" width="1" height="1" fill="#FF4500"/>
</g>
<g clip-path="url(#cmain)" shape-rendering="crispEdges">
<path d="M152 165h8v1h-8zM148 166h4v1h-4zM160 166h4v1h-4zM396 166h4v1h-4zM145 167h3v1h-3zM164 167h4v1h-4zM384 167h12v1h-12zM400 167h27v1h-27zM143 168h2v1h-2zM168 168h4v1h-4zM380 168h4v1h-4zM427 168h2v1h-2zM140 169h3v1h-3zM172 169h3v1h-3zM376 169h4v1h-4zM429 169h7v1h-7zM137 170h3v1h-3zM175 170h2v1h-2zM373 170h3v1h-3zM436 170h4v1h-4zM135 171h2v1h-2zM177 171h2v1h-2zM371 171h2v1h-2zM440 171h7v1h-7zM132 172h3v1h-3zM179 172h2v1h-2zM368 172h3v1h-3zM447 172h2v1h-2zM88 173h8v1h-8zM128 173h4v1h-4zM181 173h3v1h-3zM364 173h4v1h-4zM449 173h2v1h-2zM84 174h4v1h-4zM96 174h8v1h-8zM120 174h8v1h-8zM184 174h3v1h-3zM360 174h4v1h-4zM451 174h1v1h-1zM66 175h6v1h-6zM76 175h8v1h-8zM104 175h16v1h-16zM187 175h2v1h-2zM356 175h4v1h-4zM452 175h2v1h-2zM64 176h2v1h-2zM72 176h4v1h-4zM189 176h2v1h-2zM353 176h3v1h-3zM454 176h1v1h-1zM63 177h1v1h-1zM191 177h2v1h-2zM351 177h2v1h-2zM455 177h2v1h-2zM61 178h2v1h-2zM193 178h3v1h-3zM349 178h2v1h-2zM457 178h2v1h-2zM59 179h2v1h-2zM196 179h4v1h-4zM347 179h2v1h-2zM459 179h1v1h-1zM57 180h2v1h-2zM200 180h3v1h-3zM345 180h2v1h-2zM460 180h2v1h-2zM55 181h2v1h-2zM203 181h1v1h-1zM343 181h2v1h-2zM462 181h1v1h-1zM53 182h2v1h-2zM204 182h2v1h-2zM340 182h3v1h-3zM463 182h2v1h-2zM51 183h2v1h-2zM206 183h1v1h-1zM338 183h2v1h-2zM465 183h2v1h-2zM49 184h2v1h-2zM207 184h1v1h-1zM336 184h2v1h-2zM467 184h1v1h-1zM47 185h2v1h-2zM208 185h2v1h-2zM335 185h1v1h-1zM468 185h1v1h-1zM45 186h2v1h-2zM210 186h1v1h-1zM332 186h3v1h-3zM469 186h1v1h-1zM43 187h2v1h-2zM211 187h1v1h-1zM328 187h4v1h-4zM470 187h1v1h-1zM36 188h7v1h-7zM212 188h2v1h-2zM325 188h3v1h-3zM471 188h1v1h-1zM32 189h4v1h-4zM214 189h1v1h-1zM323 189h2v1h-2zM472 189h2v1h-2zM29 190h3v1h-3zM215 190h1v1h-1zM322 190h1v1h-1zM474 190h1v1h-1zM27 191h2v1h-2zM216 191h2v1h-2zM320 191h2v1h-2zM475 191h1v1h-1zM24 192h3v1h-3zM218 192h1v1h-1zM319 192h1v1h-1zM476 192h2v1h-2zM21 193h3v1h-3zM219 193h1v1h-1zM318 193h1v1h-1zM478 193h1v1h-1zM19 194h2v1h-2zM220 194h1v1h-1zM316 194h2v1h-2zM479 194h1v1h-1zM17 195h2v1h-2zM221 195h1v1h-1zM315 195h1v1h-1zM480 195h2v1h-2zM15 196h2v1h-2zM222 196h1v1h-1zM313 196h2v1h-2zM482 196h1v1h-1zM12 197h3v1h-3zM223 197h1v1h-1zM311 197h2v1h-2zM483 197h2v1h-2zM9 198h3v1h-3zM224 198h1v1h-1zM268 198h20v1h-20zM292 198h4v1h-4zM308 198h3v1h-3zM485 198h2v1h-2zM7 199h2v1h-2zM225 199h1v1h-1zM264 199h4v1h-4zM288 199h4v1h-4zM296 199h12v1h-12zM487 199h1v1h-1zM6 200h1v1h-1zM226 200h14v1h-14zM260 200h4v1h-4zM488 200h2v1h-2zM240 201h4v1h-4zM252 201h8v1h-8zM490 201h1v1h-1zM244 202h8v1h-8zM491 202h1v1h-1zM492 203h2v1h-2zM494 204h1v1h-1zM495 205h1v1h-1zM496 206h1v1h-1zM497 207h1v1h-1zM498 208h1v1h-1zM499 209h1v1h-1zM500 210h2v1h-2zM502 211h1v1h-1zM503 212h1v1h-1zM504 213h2v1h-2zM506 214h1v1h-1zM507 215h2v1h-2zM509 216h2v1h-2zM511 217h1v1h-1zM512 218h1v1h-1zM513 219h1v1h-1zM514 220h1v1h-1zM515 221h1v1h-1zM516 222h2v1h-2zM518 223h1v1h-1zM519 224h1v1h-1zM520 225h2v1h-2zM522 226h1v1h-1zM523 227h1v1h-1zM524 228h2v1h-2zM526 229h1v1h-1zM527 230h1v1h-1zM528 231h2v1h-2zM530 232h1v1h-1zM531 233h1v1h-1zM532 234h2v1h-2zM534 235h1v1h-1zM535 236h1v1h-1zM536 237h2v1h-2zM538 238h1v1h-1zM539 239h1v1h-1zM540 240h2v1h-2zM542 241h1v1h-1zM543 242h1v1h-1zM544 243h2v1h-2zM546 244h1v1h-1zM547 245h1v1h-1zM548 246h1v1h-1zM549 247h1v1h-1zM550 248h1v1h-1zM551 249h1v1h-1zM552 250h1v1h-1zM552 251h1v1h-1zM553 252h1v1h-1zM554 253h1v1h-1zM555 254h1v1h-1zM556 255h1v1h-1zM557 256h1v1h-1zM558 257h1v1h-1zM559 258h1v1h-1zM560 259h1v1h-1zM561 260h1v1h-1zM562 261h1v1h-1zM563 262h1v1h-1zM564 263h1v1h-1zM564 264h1v1h-1zM565 265h1v1h-1zM566 266h1v1h-1zM567 267h1v1h-1zM568 268h1v1h-1zM569 269h1v1h-1zM570 270h1v1h-1zM571 271h1v1h-1zM572 272h1v1h-1zM572 273h1v1h-1zM573 274h1v1h-1zM574 275h1v1h-1zM575 276h1v1h-1zM576 277h1v1h-1zM577 278h1v1h-1zM578 279h1v1h-1zM579 280h1v1h-1zM580 281h1v1h-1zM581 282h1v1h-1zM582 283h1v1h-1zM583 284h1v1h-1zM584 285h1v1h-1zM584 286h1v1h-1zM585 287h1v1h-1zM586 288h1v1h-1zM587 289h1v1h-1zM588 290h1v1h-1zM589 291h1v1h-1zM590 292h1v1h-1zM591 293h1v1h-1zM592 294h1v1h-1zM593 295h1v1h-1zM594 296h1v1h-1zM595 297h1v1h-1zM596 298h1v1h-1zM597 299h1v1h-1zM598 300h1v1h-1zM599 301h1v1h-1zM600 302h1v1h-1zM601 303h1v1h-1zM602 304h1v1h-1zM603 305h1v1h-1zM604 306h1v1h-1zM605 307h1v1h-1zM606 308h1v1h-1zM607 309h2v1h-2zM609 310h2v1h-2zM611 311h2v1h-2zM613 312h3v1h-3zM616 313h3v1h-3zM619 314h2v1h-2zM621 315h2v1h-2zM623 316h2v1h-2zM625 317h2v1h-2zM627 318h1v1h-1zM628 319h2v1h-2zM630 320h1v1h-1zM631 321h2v1h-2zM633 322h2v1h-2zM635 323h1v1h-1zM636 324h2v1h-2zM638 325h1v1h-1zM639 326h1v1h-1zM640 327h2v1h-2zM642 328h1v1h-1zM643 329h2v1h-2zM645 330h2v1h-2zM647 331h2v1h-2zM649 332h2v1h-2zM651 333h2v1h-2zM653 334h2v1h-2zM655 335h2v1h-2zM657 336h2v1h-2zM659 337h1v1h-1zM660 338h2v1h-2zM662 339h1v1h-1zM663 340h1v1h-1zM664 341h1v1h-1zM664 342h1v1h-1zM665 343h1v1h-1zM666 344h1v1h-1zM667 345h1v1h-1zM668 346h1v1h-1zM669 347h1v1h-1zM670 348h1v1h-1zM671 349h1v1h-1zM672 350h1v1h-1zM925 350h2v1h-2zM672 351h1v1h-1zM923 351h2v1h-2zM673 352h1v1h-1zM920 352h3v1h-3zM674 353h1v1h-1zM918 353h2v1h-2zM675 354h1v1h-1zM916 354h2v1h-2zM676 355h2v1h-2zM915 355h1v1h-1zM678 356h1v1h-1zM913 356h2v1h-2zM679 357h2v1h-2zM911 357h2v1h-2zM681 358h2v1h-2zM909 358h2v1h-2zM683 359h1v1h-1zM907 359h2v1h-2zM684 360h2v1h-2zM905 360h2v1h-2zM686 361h1v1h-1zM903 361h2v1h-2zM687 362h2v1h-2zM901 362h2v1h-2zM689 363h2v1h-2zM899 363h2v1h-2zM691 364h1v1h-1zM896 364h3v1h-3zM692 365h2v1h-2zM893 365h3v1h-3zM694 366h2v1h-2zM891 366h2v1h-2zM696 367h3v1h-3zM728 367h24v1h-24zM884 367h7v1h-7zM699 368h2v1h-2zM724 368h4v1h-4zM752 368h8v1h-8zM876 368h8v1h-8zM701 369h2v1h-2zM720 369h4v1h-4zM760 369h4v1h-4zM872 369h4v1h-4zM703 370h2v1h-2zM716 370h4v1h-4zM764 370h4v1h-4zM865 370h7v1h-7zM705 371h11v1h-11zM768 371h3v1h-3zM863 371h2v1h-2zM771 372h2v1h-2zM860 372h3v1h-3zM773 373h2v1h-2zM856 373h4v1h-4zM775 374h2v1h-2zM852 374h4v1h-4zM777 375h3v1h-3zM849 375h3v1h-3zM780 376h8v1h-8zM847 376h2v1h-2zM788 377h3v1h-3zM844 377h3v1h-3zM791 378h2v1h-2zM837 378h7v1h-7zM793 379h3v1h-3zM835 379h2v1h-2zM796 380h4v1h-4zM833 380h2v1h-2zM800 381h3v1h-3zM831 381h2v1h-2zM803 382h2v1h-2zM828 382h3v1h-3zM805 383h2v1h-2zM825 383h3v1h-3zM807 384h2v1h-2zM823 384h2v1h-2zM809 385h3v1h-3zM816 385h7v1h-7zM812 386h4v1h-4z" fill="#FFFF00"/>
<path d="M88 146h4v1h-4zM86 147h2v1h-2zM92 147h4v1h-4zM85 148h1v1h-1zM96 148h3v1h-3zM84 149h1v1h-1zM99 149h2v1h-2zM83 150h1v1h-1zM101 150h3v1h-3zM82 151h1v1h-1zM104 151h4v1h-4zM81 152h1v1h-1zM108 152h8v1h-8zM80 153h1v1h-1zM116 153h11v1h-11zM79 154h1v1h-1zM127 154h2v1h-2zM78 155h1v1h-1zM129 155h2v1h-2zM77 156h1v1h-1zM131 156h1v1h-1zM76 157h1v1h-1zM132 157h1v1h-1zM75 158h1v1h-1zM133 158h1v1h-1zM73 159h2v1h-2zM134 159h1v1h-1zM344 159h8v1h-8zM71 160h2v1h-2zM135 160h2v1h-2zM340 160h4v1h-4zM352 160h4v1h-4zM372 160h4v1h-4zM70 161h1v1h-1zM137 161h2v1h-2zM336 161h4v1h-4zM356 161h4v1h-4zM368 161h4v1h-4zM376 161h12v1h-12zM68 162h2v1h-2zM139 162h1v1h-1zM321 162h7v1h-7zM332 162h4v1h-4zM360 162h8v1h-8zM388 162h3v1h-3zM67 163h1v1h-1zM140 163h1v1h-1zM319 163h2v1h-2zM328 163h4v1h-4zM391 163h2v1h-2zM66 164h1v1h-1zM141 164h1v1h-1zM318 164h1v1h-1zM393 164h2v1h-2zM66 165h1v1h-1zM142 165h1v1h-1zM316 165h2v1h-2zM395 165h2v1h-2zM65 166h1v1h-1zM143 166h1v1h-1zM315 166h1v1h-1zM397 166h2v1h-2zM65 167h1v1h-1zM144 167h1v1h-1zM314 167h1v1h-1zM399 167h1v1h-1zM64 168h1v1h-1zM145 168h1v1h-1zM312 168h2v1h-2zM400 168h1v1h-1zM64 169h1v1h-1zM146 169h1v1h-1zM311 169h1v1h-1zM400 169h1v1h-1zM63 170h1v1h-1zM147 170h1v1h-1zM310 170h1v1h-1zM401 170h1v1h-1zM63 171h1v1h-1zM148 171h1v1h-1zM309 171h1v1h-1zM402 171h1v1h-1zM62 172h1v1h-1zM148 172h1v1h-1zM308 172h1v1h-1zM403 172h1v1h-1zM412 172h4v1h-4zM61 173h1v1h-1zM149 173h1v1h-1zM308 173h1v1h-1zM404 173h2v1h-2zM408 173h4v1h-4zM416 173h4v1h-4zM61 174h1v1h-1zM150 174h2v1h-2zM307 174h1v1h-1zM406 174h2v1h-2zM420 174h4v1h-4zM60 175h1v1h-1zM152 175h3v1h-3zM306 175h1v1h-1zM424 175h3v1h-3zM60 176h1v1h-1zM155 176h2v1h-2zM304 176h2v1h-2zM427 176h2v1h-2zM59 177h1v1h-1zM157 177h2v1h-2zM303 177h1v1h-1zM429 177h3v1h-3zM59 178h1v1h-1zM159 178h1v1h-1zM302 178h1v1h-1zM432 178h4v1h-4zM58 179h1v1h-1zM160 179h1v1h-1zM300 179h2v1h-2zM436 179h4v1h-4zM57 180h1v1h-1zM160 180h1v1h-1zM299 180h1v1h-1zM440 180h4v1h-4zM56 181h1v1h-1zM161 181h1v1h-1zM296 181h3v1h-3zM444 181h3v1h-3zM56 182h1v1h-1zM162 182h1v1h-1zM294 182h2v1h-2zM447 182h1v1h-1zM55 183h1v1h-1zM163 183h1v1h-1zM292 183h2v1h-2zM448 183h1v1h-1zM54 184h1v1h-1zM164 184h1v1h-1zM291 184h1v1h-1zM449 184h1v1h-1zM53 185h1v1h-1zM165 185h1v1h-1zM289 185h2v1h-2zM450 185h1v1h-1zM52 186h1v1h-1zM166 186h1v1h-1zM287 186h2v1h-2zM451 186h1v1h-1zM52 187h1v1h-1zM167 187h1v1h-1zM284 187h3v1h-3zM451 187h1v1h-1zM51 188h1v1h-1zM168 188h1v1h-1zM281 188h3v1h-3zM452 188h1v1h-1zM50 189h1v1h-1zM169 189h1v1h-1zM279 189h2v1h-2zM453 189h1v1h-1zM49 190h1v1h-1zM170 190h1v1h-1zM278 190h1v1h-1zM453 190h1v1h-1zM48 191h1v1h-1zM171 191h1v1h-1zM277 191h1v1h-1zM454 191h1v1h-1zM47 192h1v1h-1zM172 192h1v1h-1zM276 192h1v1h-1zM455 192h1v1h-1zM46 193h1v1h-1zM173 193h1v1h-1zM275 193h1v1h-1zM456 193h1v1h-1zM44 194h2v1h-2zM174 194h2v1h-2zM274 194h1v1h-1zM456 194h1v1h-1zM43 195h1v1h-1zM176 195h3v1h-3zM273 195h1v1h-1zM457 195h1v1h-1zM40 196h3v1h-3zM179 196h2v1h-2zM272 196h1v1h-1zM458 196h1v1h-1zM28 197h12v1h-12zM181 197h3v1h-3zM271 197h1v1h-1zM459 197h1v1h-1zM24 198h4v1h-4zM184 198h3v1h-3zM270 198h1v1h-1zM460 198h1v1h-1zM20 199h4v1h-4zM187 199h2v1h-2zM269 199h1v1h-1zM460 199h1v1h-1zM16 200h4v1h-4zM189 200h2v1h-2zM268 200h1v1h-1zM461 200h1v1h-1zM6 201h10v1h-10zM191 201h1v1h-1zM267 201h1v1h-1zM462 201h1v1h-1zM192 202h2v1h-2zM266 202h1v1h-1zM463 202h1v1h-1zM194 203h1v1h-1zM264 203h2v1h-2zM464 203h1v1h-1zM195 204h2v1h-2zM263 204h1v1h-1zM465 204h1v1h-1zM197 205h2v1h-2zM262 205h1v1h-1zM466 205h1v1h-1zM199 206h2v1h-2zM260 206h2v1h-2zM467 206h2v1h-2zM201 207h2v1h-2zM259 207h1v1h-1zM469 207h2v1h-2zM203 208h1v1h-1zM257 208h2v1h-2zM471 208h1v1h-1zM204 209h2v1h-2zM255 209h2v1h-2zM472 209h1v1h-1zM206 210h1v1h-1zM254 210h1v1h-1zM473 210h1v1h-1zM207 211h2v1h-2zM252 211h2v1h-2zM474 211h1v1h-1zM209 212h2v1h-2zM251 212h1v1h-1zM475 212h1v1h-1zM211 213h1v1h-1zM250 213h1v1h-1zM476 213h1v1h-1zM212 214h2v1h-2zM248 214h2v1h-2zM477 214h1v1h-1zM214 215h1v1h-1zM247 215h1v1h-1zM478 215h1v1h-1zM215 216h2v1h-2zM246 216h1v1h-1zM479 216h1v1h-1zM217 217h2v1h-2zM245 217h1v1h-1zM480 217h1v1h-1zM219 218h1v1h-1zM244 218h1v1h-1zM481 218h1v1h-1zM220 219h2v1h-2zM243 219h1v1h-1zM482 219h1v1h-1zM222 220h1v1h-1zM241 220h2v1h-2zM483 220h2v1h-2zM223 221h1v1h-1zM239 221h2v1h-2zM485 221h2v1h-2zM224 222h2v1h-2zM237 222h2v1h-2zM487 222h1v1h-1zM226 223h2v1h-2zM235 223h2v1h-2zM488 223h1v1h-1zM228 224h7v1h-7zM488 224h1v1h-1zM489 225h1v1h-1zM490 226h1v1h-1zM491 227h1v1h-1zM492 228h1v1h-1zM492 229h1v1h-1zM493 230h1v1h-1zM494 231h1v1h-1zM495 232h1v1h-1zM495 233h1v1h-1zM496 234h1v1h-1zM496 235h1v1h-1zM497 236h1v1h-1zM497 237h1v1h-1zM498 238h1v1h-1zM499 239h1v1h-1zM500 240h1v1h-1zM500 241h1v1h-1zM501 242h1v1h-1zM502 243h1v1h-1zM503 244h1v1h-1zM504 245h1v1h-1zM504 246h1v1h-1zM505 247h1v1h-1zM506 248h1v1h-1zM507 249h1v1h-1zM508 250h1v1h-1zM508 251h1v1h-1zM509 252h1v1h-1zM510 253h1v1h-1zM511 254h1v1h-1zM512 255h1v1h-1zM513 256h1v1h-1zM514 257h1v1h-1zM515 258h1v1h-1zM516 259h1v1h-1zM516 260h1v1h-1zM517 261h1v1h-1zM518 262h1v1h-1zM519 263h1v1h-1zM519 264h1v1h-1zM520 265h1v1h-1zM521 266h1v1h-1zM521 267h1v1h-1zM522 268h1v1h-1zM523 269h1v1h-1zM524 270h1v1h-1zM524 271h1v1h-1zM525 272h1v1h-1zM526 273h1v1h-1zM527 274h1v1h-1zM528 275h1v1h-1zM528 276h1v1h-1zM529 277h1v1h-1zM530 278h2v1h-2zM532 279h4v1h-4zM536 280h4v1h-4zM540 281h3v1h-3zM543 282h2v1h-2zM545 283h2v1h-2zM547 284h2v1h-2zM549 285h2v1h-2zM551 286h1v1h-1zM552 287h1v1h-1zM552 288h1v1h-1zM553 289h1v1h-1zM554 290h1v1h-1zM555 291h1v1h-1zM556 292h1v1h-1zM556 293h1v1h-1zM557 294h1v1h-1zM558 295h1v1h-1zM559 296h1v1h-1zM559 297h1v1h-1zM560 298h1v1h-1zM561 299h1v1h-1zM561 300h1v1h-1zM562 301h1v1h-1zM563 302h1v1h-1zM564 303h1v1h-1zM564 304h1v1h-1zM565 305h1v1h-1zM566 306h1v1h-1zM567 307h1v1h-1zM925 307h2v1h-2zM568 308h1v1h-1zM923 308h2v1h-2zM568 309h1v1h-1zM922 309h1v1h-1zM569 310h1v1h-1zM920 310h2v1h-2zM570 311h1v1h-1zM919 311h1v1h-1zM571 312h1v1h-1zM918 312h1v1h-1zM572 313h2v1h-2zM917 313h1v1h-1zM574 314h1v1h-1zM916 314h1v1h-1zM575 315h1v1h-1zM916 315h1v1h-1zM576 316h2v1h-2zM915 316h1v1h-1zM578 317h1v1h-1zM914 317h1v1h-1zM579 318h2v1h-2zM913 318h1v1h-1zM581 319h2v1h-2zM913 319h1v1h-1zM583 320h1v1h-1zM912 320h1v1h-1zM584 321h2v1h-2zM911 321h1v1h-1zM586 322h1v1h-1zM911 322h1v1h-1zM587 323h1v1h-1zM910 323h1v1h-1zM588 324h1v1h-1zM909 324h1v1h-1zM589 325h1v1h-1zM908 325h1v1h-1zM590 326h1v1h-1zM908 326h1v1h-1zM591 327h1v1h-1zM907 327h1v1h-1zM592 328h2v1h-2zM906 328h1v1h-1zM594 329h1v1h-1zM905 329h1v1h-1zM595 330h1v1h-1zM905 330h1v1h-1zM596 331h2v1h-2zM904 331h1v1h-1zM598 332h1v1h-1zM903 332h1v1h-1zM599 333h1v1h-1zM903 333h1v1h-1zM600 334h1v1h-1zM902 334h1v1h-1zM601 335h1v1h-1zM901 335h1v1h-1zM602 336h2v1h-2zM900 336h1v1h-1zM604 337h3v1h-3zM900 337h1v1h-1zM607 338h2v1h-2zM899 338h1v1h-1zM609 339h2v1h-2zM898 339h1v1h-1zM611 340h1v1h-1zM897 340h1v1h-1zM612 341h2v1h-2zM896 341h1v1h-1zM614 342h1v1h-1zM896 342h1v1h-1zM615 343h2v1h-2zM895 343h1v1h-1zM617 344h2v1h-2zM894 344h1v1h-1zM619 345h2v1h-2zM893 345h1v1h-1zM621 346h2v1h-2zM893 346h1v1h-1zM623 347h1v1h-1zM892 347h1v1h-1zM624 348h2v1h-2zM891 348h1v1h-1zM626 349h1v1h-1zM891 349h1v1h-1zM627 350h2v1h-2zM890 350h1v1h-1zM629 351h3v1h-3zM648 351h4v1h-4zM889 351h1v1h-1zM632 352h4v1h-4zM644 352h4v1h-4zM652 352h3v1h-3zM889 352h1v1h-1zM636 353h8v1h-8zM655 353h2v1h-2zM888 353h1v1h-1zM657 354h2v1h-2zM887 354h1v1h-1zM659 355h1v1h-1zM887 355h1v1h-1zM660 356h2v1h-2zM886 356h1v1h-1zM662 357h1v1h-1zM885 357h1v1h-1zM663 358h1v1h-1zM884 358h1v1h-1zM664 359h1v1h-1zM884 359h1v1h-1zM664 360h1v1h-1zM761 360h15v1h-15zM883 360h1v1h-1zM665 361h1v1h-1zM759 361h2v1h-2zM776 361h4v1h-4zM882 361h1v1h-1zM666 362h1v1h-1zM758 362h1v1h-1zM780 362h8v1h-8zM881 362h1v1h-1zM667 363h1v1h-1zM757 363h1v1h-1zM788 363h3v1h-3zM880 363h1v1h-1zM667 364h1v1h-1zM756 364h1v1h-1zM791 364h1v1h-1zM880 364h1v1h-1zM668 365h1v1h-1zM755 365h1v1h-1zM792 365h2v1h-2zM879 365h1v1h-1zM669 366h1v1h-1zM754 366h1v1h-1zM794 366h1v1h-1zM878 366h1v1h-1zM669 367h1v1h-1zM753 367h1v1h-1zM795 367h1v1h-1zM877 367h1v1h-1zM670 368h1v1h-1zM752 368h1v1h-1zM796 368h2v1h-2zM877 368h1v1h-1zM671 369h1v1h-1zM752 369h1v1h-1zM798 369h1v1h-1zM876 369h1v1h-1zM672 370h1v1h-1zM751 370h1v1h-1zM799 370h1v1h-1zM875 370h1v1h-1zM673 371h1v1h-1zM750 371h1v1h-1zM800 371h1v1h-1zM875 371h1v1h-1zM674 372h1v1h-1zM749 372h1v1h-1zM801 372h1v1h-1zM874 372h1v1h-1zM675 373h1v1h-1zM748 373h1v1h-1zM802 373h1v1h-1zM873 373h1v1h-1zM676 374h1v1h-1zM747 374h1v1h-1zM803 374h1v1h-1zM872 374h1v1h-1zM676 375h1v1h-1zM746 375h1v1h-1zM803 375h1v1h-1zM872 375h1v1h-1zM677 376h1v1h-1zM744 376h2v1h-2zM804 376h1v1h-1zM871 376h1v1h-1zM678 377h1v1h-1zM743 377h1v1h-1zM805 377h1v1h-1zM870 377h1v1h-1zM679 378h2v1h-2zM742 378h1v1h-1zM805 378h1v1h-1zM868 378h2v1h-2zM681 379h3v1h-3zM740 379h2v1h-2zM806 379h1v1h-1zM867 379h1v1h-1zM684 380h3v1h-3zM739 380h1v1h-1zM807 380h1v1h-1zM866 380h1v1h-1zM687 381h1v1h-1zM736 381h3v1h-3zM808 381h1v1h-1zM864 381h2v1h-2zM688 382h2v1h-2zM725 382h11v1h-11zM808 382h1v1h-1zM863 382h1v1h-1zM690 383h1v1h-1zM723 383h2v1h-2zM809 383h1v1h-1zM862 383h1v1h-1zM691 384h2v1h-2zM721 384h2v1h-2zM810 384h1v1h-1zM861 384h1v1h-1zM693 385h3v1h-3zM719 385h2v1h-2zM811 385h1v1h-1zM860 385h1v1h-1zM696 386h3v1h-3zM717 386h2v1h-2zM812 386h2v1h-2zM859 386h1v1h-1zM699 387h1v1h-1zM715 387h2v1h-2zM814 387h1v1h-1zM858 387h1v1h-1zM700 388h2v1h-2zM712 388h3v1h-3zM815 388h2v1h-2zM857 388h1v1h-1zM702 389h2v1h-2zM708 389h4v1h-4zM817 389h2v1h-2zM856 389h1v1h-1zM704 390h4v1h-4zM819 390h2v1h-2zM855 390h1v1h-1zM821 391h2v1h-2zM853 391h2v1h-2zM823 392h2v1h-2zM851 392h2v1h-2zM825 393h2v1h-2zM849 393h2v1h-2zM827 394h2v1h-2zM847 394h2v1h-2zM829 395h3v1h-3zM845 395h2v1h-2zM832 396h4v1h-4zM843 396h2v1h-2zM836 397h7v1h-7z" fill="#0000FF"/>
<path d="M88 134h3v1h-3zM84 135h4v1h-4zM91 135h1v1h-1zM81 136h3v1h-3zM92 136h2v1h-2zM68 137h3v1h-3zM79 137h2v1h-2zM94 137h1v1h-1zM66 138h2v1h-2zM71 138h2v1h-2zM76 138h3v1h-3zM95 138h2v1h-2zM66 139h1v1h-1zM73 139h3v1h-3zM97 139h2v1h-2zM65 140h1v1h-1zM99 140h1v1h-1zM65 141h1v1h-1zM99 141h1v1h-1zM64 142h1v1h-1zM100 142h1v1h-1zM64 143h1v1h-1zM101 143h1v1h-1zM63 144h1v1h-1zM101 144h1v1h-1zM63 145h1v1h-1zM102 145h1v1h-1zM62 146h1v1h-1zM103 146h1v1h-1zM61 147h1v1h-1zM103 147h1v1h-1zM61 148h1v1h-1zM104 148h1v1h-1zM60 149h1v1h-1zM105 149h1v1h-1zM60 150h1v1h-1zM105 150h1v1h-1zM59 151h1v1h-1zM106 151h1v1h-1zM59 152h1v1h-1zM107 152h1v1h-1zM354 152h5v1h-5zM58 153h1v1h-1zM107 153h1v1h-1zM352 153h2v1h-2zM359 153h2v1h-2zM58 154h1v1h-1zM108 154h1v1h-1zM351 154h1v1h-1zM361 154h2v1h-2zM57 155h1v1h-1zM109 155h1v1h-1zM345 155h6v1h-6zM363 155h1v1h-1zM57 156h1v1h-1zM109 156h1v1h-1zM322 156h1v1h-1zM343 156h2v1h-2zM364 156h1v1h-1zM56 157h1v1h-1zM110 157h1v1h-1zM320 157h2v1h-2zM323 157h1v1h-1zM341 157h2v1h-2zM365 157h1v1h-1zM56 158h1v1h-1zM111 158h1v1h-1zM319 158h1v1h-1zM324 158h2v1h-2zM339 158h2v1h-2zM366 158h1v1h-1zM55 159h1v1h-1zM112 159h1v1h-1zM318 159h1v1h-1zM326 159h2v1h-2zM336 159h3v1h-3zM367 159h1v1h-1zM55 160h1v1h-1zM113 160h1v1h-1zM317 160h1v1h-1zM328 160h8v1h-8zM368 160h2v1h-2zM54 161h1v1h-1zM114 161h1v1h-1zM316 161h1v1h-1zM370 161h1v1h-1zM54 162h1v1h-1zM115 162h1v1h-1zM316 162h1v1h-1zM371 162h1v1h-1zM54 163h1v1h-1zM115 163h1v1h-1zM315 163h1v1h-1zM372 163h1v1h-1zM53 164h1v1h-1zM116 164h1v1h-1zM314 164h1v1h-1zM372 164h1v1h-1zM53 165h1v1h-1zM116 165h1v1h-1zM313 165h1v1h-1zM373 165h1v1h-1zM52 166h1v1h-1zM117 166h1v1h-1zM312 166h1v1h-1zM374 166h1v1h-1zM52 167h1v1h-1zM117 167h1v1h-1zM311 167h1v1h-1zM375 167h1v1h-1zM51 168h1v1h-1zM118 168h1v1h-1zM310 168h1v1h-1zM376 168h2v1h-2zM51 169h1v1h-1zM119 169h1v1h-1zM282 169h2v1h-2zM308 169h2v1h-2zM378 169h2v1h-2zM50 170h1v1h-1zM119 170h1v1h-1zM281 170h1v1h-1zM284 170h4v1h-4zM292 170h3v1h-3zM307 170h1v1h-1zM380 170h7v1h-7zM50 171h1v1h-1zM120 171h1v1h-1zM280 171h1v1h-1zM288 171h4v1h-4zM295 171h2v1h-2zM304 171h3v1h-3zM387 171h2v1h-2zM50 172h1v1h-1zM120 172h1v1h-1zM280 172h1v1h-1zM297 172h7v1h-7zM389 172h7v1h-7zM49 173h1v1h-1zM121 173h1v1h-1zM279 173h1v1h-1zM396 173h3v1h-3zM49 174h1v1h-1zM121 174h1v1h-1zM128 174h3v1h-3zM278 174h1v1h-1zM399 174h1v1h-1zM48 175h1v1h-1zM122 175h6v1h-6zM131 175h1v1h-1zM277 175h1v1h-1zM400 175h1v1h-1zM48 176h1v1h-1zM132 176h2v1h-2zM276 176h1v1h-1zM401 176h1v1h-1zM47 177h1v1h-1zM134 177h5v1h-5zM276 177h1v1h-1zM402 177h2v1h-2zM416 177h4v1h-4zM424 177h3v1h-3zM47 178h1v1h-1zM139 178h2v1h-2zM150 178h5v1h-5zM275 178h1v1h-1zM404 178h4v1h-4zM412 178h4v1h-4zM420 178h4v1h-4zM427 178h2v1h-2zM46 179h1v1h-1zM141 179h2v1h-2zM148 179h2v1h-2zM155 179h2v1h-2zM274 179h1v1h-1zM408 179h4v1h-4zM429 179h3v1h-3zM46 180h1v1h-1zM143 180h2v1h-2zM147 180h1v1h-1zM157 180h2v1h-2zM273 180h1v1h-1zM432 180h8v1h-8zM46 181h1v1h-1zM145 181h2v1h-2zM159 181h1v1h-1zM272 181h1v1h-1zM440 181h4v1h-4zM45 182h1v1h-1zM160 182h1v1h-1zM272 182h1v1h-1zM444 182h3v1h-3zM45 183h1v1h-1zM161 183h1v1h-1zM271 183h1v1h-1zM447 183h1v1h-1zM44 184h1v1h-1zM162 184h1v1h-1zM270 184h1v1h-1zM447 184h1v1h-1zM44 185h1v1h-1zM163 185h1v1h-1zM269 185h1v1h-1zM448 185h1v1h-1zM43 186h1v1h-1zM164 186h2v1h-2zM269 186h1v1h-1zM448 186h1v1h-1zM43 187h1v1h-1zM166 187h1v1h-1zM268 187h1v1h-1zM449 187h1v1h-1zM42 188h1v1h-1zM167 188h1v1h-1zM267 188h1v1h-1zM449 188h1v1h-1zM41 189h1v1h-1zM168 189h1v1h-1zM267 189h1v1h-1zM450 189h1v1h-1zM40 190h1v1h-1zM168 190h1v1h-1zM266 190h1v1h-1zM450 190h1v1h-1zM39 191h1v1h-1zM169 191h1v1h-1zM265 191h1v1h-1zM451 191h1v1h-1zM38 192h1v1h-1zM170 192h1v1h-1zM264 192h1v1h-1zM451 192h1v1h-1zM37 193h1v1h-1zM171 193h1v1h-1zM263 193h1v1h-1zM452 193h1v1h-1zM36 194h1v1h-1zM172 194h2v1h-2zM262 194h1v1h-1zM452 194h1v1h-1zM35 195h1v1h-1zM174 195h1v1h-1zM260 195h2v1h-2zM453 195h1v1h-1zM34 196h1v1h-1zM175 196h1v1h-1zM259 196h1v1h-1zM453 196h1v1h-1zM33 197h1v1h-1zM175 197h1v1h-1zM258 197h1v1h-1zM454 197h1v1h-1zM32 198h1v1h-1zM176 198h1v1h-1zM256 198h2v1h-2zM454 198h1v1h-1zM32 199h1v1h-1zM177 199h1v1h-1zM255 199h1v1h-1zM455 199h1v1h-1zM31 200h1v1h-1zM177 200h1v1h-1zM254 200h1v1h-1zM456 200h1v1h-1zM30 201h1v1h-1zM178 201h1v1h-1zM252 201h2v1h-2zM456 201h1v1h-1zM29 202h1v1h-1zM179 202h1v1h-1zM251 202h1v1h-1zM457 202h1v1h-1zM28 203h1v1h-1zM180 203h2v1h-2zM250 203h1v1h-1zM458 203h1v1h-1zM27 204h1v1h-1zM182 204h1v1h-1zM249 204h1v1h-1zM459 204h1v1h-1zM25 205h2v1h-2zM183 205h1v1h-1zM248 205h1v1h-1zM459 205h1v1h-1zM23 206h2v1h-2zM184 206h1v1h-1zM248 206h1v1h-1zM460 206h1v1h-1zM21 207h2v1h-2zM184 207h1v1h-1zM247 207h1v1h-1zM460 207h1v1h-1zM19 208h2v1h-2zM185 208h1v1h-1zM246 208h1v1h-1zM461 208h1v1h-1zM17 209h2v1h-2zM186 209h1v1h-1zM245 209h1v1h-1zM461 209h1v1h-1zM15 210h2v1h-2zM187 210h1v1h-1zM244 210h1v1h-1zM462 210h1v1h-1zM6 211h9v1h-9zM188 211h2v1h-2zM243 211h1v1h-1zM463 211h1v1h-1zM190 212h1v1h-1zM242 212h1v1h-1zM463 212h1v1h-1zM191 213h1v1h-1zM241 213h1v1h-1zM464 213h1v1h-1zM191 214h1v1h-1zM240 214h1v1h-1zM464 214h1v1h-1zM192 215h1v1h-1zM240 215h1v1h-1zM465 215h1v1h-1zM192 216h1v1h-1zM239 216h1v1h-1zM465 216h1v1h-1zM193 217h1v1h-1zM238 217h1v1h-1zM466 217h1v1h-1zM193 218h1v1h-1zM237 218h1v1h-1zM467 218h1v1h-1zM194 219h1v1h-1zM236 219h1v1h-1zM467 219h1v1h-1zM195 220h1v1h-1zM235 220h1v1h-1zM468 220h1v1h-1zM196 221h2v1h-2zM234 221h1v1h-1zM469 221h1v1h-1zM198 222h1v1h-1zM233 222h1v1h-1zM469 222h1v1h-1zM199 223h1v1h-1zM232 223h1v1h-1zM470 223h1v1h-1zM200 224h2v1h-2zM232 224h1v1h-1zM471 224h1v1h-1zM202 225h1v1h-1zM231 225h1v1h-1zM471 225h1v1h-1zM203 226h1v1h-1zM229 226h2v1h-2zM472 226h1v1h-1zM204 227h1v1h-1zM227 227h2v1h-2zM473 227h1v1h-1zM205 228h1v1h-1zM217 228h3v1h-3zM224 228h3v1h-3zM473 228h1v1h-1zM206 229h1v1h-1zM215 229h2v1h-2zM220 229h4v1h-4zM474 229h1v1h-1zM207 230h2v1h-2zM212 230h3v1h-3zM475 230h1v1h-1zM209 231h3v1h-3zM476 231h1v1h-1zM477 232h1v1h-1zM478 233h1v1h-1zM479 234h1v1h-1zM479 235h1v1h-1zM480 236h1v1h-1zM481 237h1v1h-1zM481 238h1v1h-1zM482 239h1v1h-1zM483 240h1v1h-1zM484 241h1v1h-1zM485 242h1v1h-1zM486 243h1v1h-1zM487 244h1v1h-1zM487 245h1v1h-1zM488 246h1v1h-1zM489 247h1v1h-1zM489 248h1v1h-1zM490 249h1v1h-1zM491 250h1v1h-1zM491 251h1v1h-1zM492 252h1v1h-1zM492 253h1v1h-1zM493 254h1v1h-1zM493 255h1v1h-1zM494 256h1v1h-1zM494 257h1v1h-1zM495 258h1v1h-1zM495 259h1v1h-1zM496 260h1v1h-1zM496 261h1v1h-1zM497 262h1v1h-1zM497 263h1v1h-1zM498 264h1v1h-1zM499 265h1v1h-1zM499 266h1v1h-1zM500 267h1v1h-1zM500 268h1v1h-1zM501 269h1v1h-1zM501 270h1v1h-1zM502 271h2v1h-2zM508 271h8v1h-8zM504 272h4v1h-4zM516 272h3v1h-3zM519 273h1v1h-1zM520 274h2v1h-2zM522 275h1v1h-1zM523 276h1v1h-1zM524 277h1v1h-1zM525 278h1v1h-1zM526 279h1v1h-1zM527 280h1v1h-1zM528 281h2v1h-2zM530 282h1v1h-1zM531 283h1v1h-1zM532 284h2v1h-2zM534 285h1v1h-1zM535 286h1v1h-1zM536 287h1v1h-1zM537 288h1v1h-1zM538 289h1v1h-1zM539 290h1v1h-1zM540 291h1v1h-1zM924 291h3v1h-3zM541 292h1v1h-1zM918 292h6v1h-6zM542 293h1v1h-1zM917 293h1v1h-1zM543 294h2v1h-2zM916 294h1v1h-1zM545 295h2v1h-2zM915 295h1v1h-1zM547 296h1v1h-1zM914 296h1v1h-1zM548 297h2v1h-2zM913 297h1v1h-1zM550 298h1v1h-1zM912 298h1v1h-1zM551 299h1v1h-1zM911 299h1v1h-1zM552 300h2v1h-2zM910 300h1v1h-1zM554 301h1v1h-1zM909 301h1v1h-1zM555 302h1v1h-1zM908 302h1v1h-1zM556 303h1v1h-1zM908 303h1v1h-1zM556 304h1v1h-1zM907 304h1v1h-1zM557 305h1v1h-1zM906 305h1v1h-1zM558 306h1v1h-1zM905 306h1v1h-1zM559 307h1v1h-1zM905 307h1v1h-1zM559 308h1v1h-1zM904 308h1v1h-1zM560 309h1v1h-1zM903 309h1v1h-1zM560 310h1v1h-1zM903 310h1v1h-1zM561 311h1v1h-1zM902 311h1v1h-1zM561 312h1v1h-1zM901 312h1v1h-1zM562 313h1v1h-1zM900 313h1v1h-1zM563 314h1v1h-1zM900 314h1v1h-1zM563 315h1v1h-1zM899 315h1v1h-1zM564 316h1v1h-1zM898 316h1v1h-1zM565 317h1v1h-1zM897 317h1v1h-1zM565 318h1v1h-1zM897 318h1v1h-1zM566 319h1v1h-1zM896 319h1v1h-1zM567 320h1v1h-1zM895 320h1v1h-1zM568 321h1v1h-1zM895 321h1v1h-1zM569 322h1v1h-1zM894 322h1v1h-1zM570 323h1v1h-1zM893 323h1v1h-1zM571 324h1v1h-1zM893 324h1v1h-1zM572 325h1v1h-1zM892 325h1v1h-1zM573 326h1v1h-1zM891 326h1v1h-1zM574 327h1v1h-1zM891 327h1v1h-1zM575 328h1v1h-1zM890 328h1v1h-1zM576 329h2v1h-2zM889 329h1v1h-1zM578 330h1v1h-1zM888 330h1v1h-1zM579 331h1v1h-1zM888 331h1v1h-1zM580 332h2v1h-2zM887 332h1v1h-1zM582 333h1v1h-1zM886 333h1v1h-1zM583 334h1v1h-1zM885 334h1v1h-1zM584 335h1v1h-1zM885 335h1v1h-1zM585 336h1v1h-1zM884 336h1v1h-1zM586 337h1v1h-1zM884 337h1v1h-1zM587 338h1v1h-1zM883 338h1v1h-1zM588 339h1v1h-1zM883 339h1v1h-1zM588 340h1v1h-1zM882 340h1v1h-1zM589 341h1v1h-1zM881 341h1v1h-1zM590 342h1v1h-1zM881 342h1v1h-1zM591 343h2v1h-2zM880 343h1v1h-1zM593 344h2v1h-2zM880 344h1v1h-1zM595 345h1v1h-1zM756 345h4v1h-4zM879 345h1v1h-1zM596 346h1v1h-1zM750 346h6v1h-6zM760 346h3v1h-3zM879 346h1v1h-1zM597 347h1v1h-1zM748 347h2v1h-2zM763 347h1v1h-1zM878 347h1v1h-1zM598 348h1v1h-1zM747 348h1v1h-1zM764 348h2v1h-2zM877 348h1v1h-1zM599 349h1v1h-1zM746 349h1v1h-1zM766 349h1v1h-1zM877 349h1v1h-1zM600 350h1v1h-1zM617 350h11v1h-11zM744 350h2v1h-2zM767 350h1v1h-1zM876 350h1v1h-1zM601 351h1v1h-1zM615 351h2v1h-2zM628 351h4v1h-4zM743 351h1v1h-1zM768 351h1v1h-1zM876 351h1v1h-1zM602 352h2v1h-2zM613 352h2v1h-2zM632 352h8v1h-8zM644 352h4v1h-4zM742 352h1v1h-1zM769 352h1v1h-1zM875 352h1v1h-1zM604 353h4v1h-4zM611 353h2v1h-2zM640 353h4v1h-4zM648 353h7v1h-7zM741 353h1v1h-1zM770 353h1v1h-1zM875 353h1v1h-1zM608 354h3v1h-3zM655 354h1v1h-1zM740 354h1v1h-1zM771 354h1v1h-1zM874 354h1v1h-1zM656 355h2v1h-2zM739 355h1v1h-1zM771 355h1v1h-1zM873 355h1v1h-1zM658 356h1v1h-1zM738 356h1v1h-1zM772 356h1v1h-1zM873 356h1v1h-1zM659 357h1v1h-1zM737 357h1v1h-1zM772 357h1v1h-1zM872 357h1v1h-1zM660 358h1v1h-1zM736 358h1v1h-1zM773 358h1v1h-1zM872 358h1v1h-1zM661 359h1v1h-1zM735 359h1v1h-1zM773 359h1v1h-1zM871 359h1v1h-1zM662 360h1v1h-1zM734 360h1v1h-1zM774 360h1v1h-1zM871 360h1v1h-1zM663 361h1v1h-1zM733 361h1v1h-1zM775 361h1v1h-1zM870 361h1v1h-1zM663 362h1v1h-1zM733 362h1v1h-1zM775 362h1v1h-1zM869 362h1v1h-1zM664 363h1v1h-1zM732 363h1v1h-1zM776 363h1v1h-1zM868 363h1v1h-1zM664 364h1v1h-1zM731 364h1v1h-1zM776 364h1v1h-1zM868 364h1v1h-1zM665 365h1v1h-1zM731 365h1v1h-1zM777 365h1v1h-1zM867 365h1v1h-1zM665 366h1v1h-1zM730 366h1v1h-1zM777 366h1v1h-1zM866 366h1v1h-1zM666 367h1v1h-1zM730 367h1v1h-1zM778 367h1v1h-1zM865 367h1v1h-1zM666 368h1v1h-1zM729 368h1v1h-1zM779 368h1v1h-1zM865 368h1v1h-1zM667 369h1v1h-1zM729 369h1v1h-1zM779 369h1v1h-1zM864 369h1v1h-1zM667 370h1v1h-1zM728 370h1v1h-1zM780 370h1v1h-1zM864 370h1v1h-1zM668 371h1v1h-1zM728 371h1v1h-1zM781 371h1v1h-1zM863 371h1v1h-1zM668 372h1v1h-1zM727 372h1v1h-1zM781 372h1v1h-1zM863 372h1v1h-1zM669 373h1v1h-1zM727 373h1v1h-1zM782 373h1v1h-1zM862 373h1v1h-1zM669 374h1v1h-1zM726 374h1v1h-1zM783 374h1v1h-1zM861 374h1v1h-1zM670 375h1v1h-1zM726 375h1v1h-1zM784 375h2v1h-2zM861 375h1v1h-1zM670 376h1v1h-1zM725 376h1v1h-1zM786 376h1v1h-1zM860 376h1v1h-1zM670 377h1v1h-1zM725 377h1v1h-1zM787 377h1v1h-1zM860 377h1v1h-1zM671 378h1v1h-1zM724 378h1v1h-1zM788 378h1v1h-1zM859 378h1v1h-1zM671 379h1v1h-1zM724 379h1v1h-1zM789 379h1v1h-1zM859 379h1v1h-1zM672 380h1v1h-1zM724 380h1v1h-1zM790 380h1v1h-1zM858 380h1v1h-1zM672 381h1v1h-1zM723 381h1v1h-1zM791 381h1v1h-1zM857 381h1v1h-1zM673 382h1v1h-1zM723 382h1v1h-1zM792 382h1v1h-1zM857 382h1v1h-1zM673 383h1v1h-1zM722 383h1v1h-1zM793 383h1v1h-1zM856 383h1v1h-1zM674 384h1v1h-1zM722 384h1v1h-1zM794 384h1v1h-1zM856 384h1v1h-1zM674 385h1v1h-1zM722 385h1v1h-1zM795 385h1v1h-1zM855 385h1v1h-1zM675 386h1v1h-1zM721 386h1v1h-1zM796 386h2v1h-2zM855 386h1v1h-1zM676 387h1v1h-1zM721 387h1v1h-1zM798 387h1v1h-1zM854 387h1v1h-1zM676 388h1v1h-1zM720 388h1v1h-1zM799 388h1v1h-1zM852 388h2v1h-2zM677 389h1v1h-1zM720 389h1v1h-1zM800 389h1v1h-1zM851 389h1v1h-1zM678 390h1v1h-1zM720 390h1v1h-1zM801 390h1v1h-1zM850 390h1v1h-1zM679 391h1v1h-1zM719 391h1v1h-1zM802 391h1v1h-1zM848 391h2v1h-2zM680 392h2v1h-2zM719 392h1v1h-1zM803 392h1v1h-1zM847 392h1v1h-1zM682 393h1v1h-1zM718 393h1v1h-1zM803 393h1v1h-1zM846 393h1v1h-1zM683 394h1v1h-1zM718 394h1v1h-1zM804 394h1v1h-1zM845 394h1v1h-1zM684 395h2v1h-2zM717 395h1v1h-1zM805 395h1v1h-1zM844 395h1v1h-1zM686 396h1v1h-1zM717 396h1v1h-1zM805 396h1v1h-1zM843 396h1v1h-1zM687 397h1v1h-1zM716 397h1v1h-1zM806 397h1v1h-1zM840 397h3v1h-3zM688 398h2v1h-2zM716 398h1v1h-1zM807 398h1v1h-1zM836 398h4v1h-4zM690 399h1v1h-1zM715 399h1v1h-1zM808 399h1v1h-1zM834 399h2v1h-2zM691 400h2v1h-2zM715 400h1v1h-1zM809 400h1v1h-1zM832 400h2v1h-2zM693 401h3v1h-3zM714 401h1v1h-1zM810 401h1v1h-1zM831 401h1v1h-1zM696 402h3v1h-3zM713 402h1v1h-1zM811 402h2v1h-2zM824 402h7v1h-7zM699 403h1v1h-1zM712 403h1v1h-1zM813 403h11v1h-11zM700 404h2v1h-2zM712 404h1v1h-1zM702 405h1v1h-1zM711 405h1v1h-1zM703 406h2v1h-2zM708 406h3v1h-3zM705 407h3v1h-3z" fill="#FF0000"/>
</g>
<g shape-rendering="crispEdges">
<rect x="6" y="182" width="1163" height="2" fill="#FF0000"/>
<rect x="6" y="252" width="1163" height="2" fill="#FF0000"/>
<rect x="6" y="333" width="1163" height="2" fill="#00FF00"/>
<rect x="6" y="408" width="1163" height="2" fill="#0000FF"/>
<rect x="6" y="479" width="1163" height="2" fill="#0000FF"/>
<rect x="6" y="483" width="1163" height="2" fill="#FF0000"/>
</g>
<rect x="1169" y="53" width="2" height="1" fill="#000"/>
<text x="1174" y="57.15" font-size="9.8" fill="#000" stroke="#000" stroke-width="0.15" textLength="33" lengthAdjust="spacingAndGlyphs">0.79960</text>
<rect x="1169" y="86" width="2" height="1" fill="#000"/>
<text x="1174" y="90.15" font-size="9.8" fill="#000" stroke="#000" stroke-width="0.15" textLength="33" lengthAdjust="spacingAndGlyphs">0.79260</text>
<rect x="1169" y="119" width="2" height="1" fill="#000"/>
<text x="1174" y="123.15" font-size="9.8" fill="#000" stroke="#000" stroke-width="0.15" textLength="33" lengthAdjust="spacingAndGlyphs">0.78560</text>
<rect x="1169" y="152" width="2" height="1" fill="#000"/>
<text x="1174" y="156.15" font-size="9.8" fill="#000" stroke="#000" stroke-width="0.15" textLength="33" lengthAdjust="spacingAndGlyphs">0.77860</text>
<rect x="1169" y="185" width="2" height="1" fill="#000"/>
<text x="1174" y="189.15" font-size="9.8" fill="#000" stroke="#000" stroke-width="0.15" textLength="33" lengthAdjust="spacingAndGlyphs">0.77160</text>
<rect x="1169" y="218" width="2" height="1" fill="#000"/>
<text x="1174" y="222.15" font-size="9.8" fill="#000" stroke="#000" stroke-width="0.15" textLength="33" lengthAdjust="spacingAndGlyphs">0.76460</text>
<rect x="1169" y="251" width="2" height="1" fill="#000"/>
<text x="1174" y="255.15" font-size="9.8" fill="#000" stroke="#000" stroke-width="0.15" textLength="33" lengthAdjust="spacingAndGlyphs">0.75760</text>
<rect x="1169" y="284" width="2" height="1" fill="#000"/>
<text x="1174" y="288.15" font-size="9.8" fill="#000" stroke="#000" stroke-width="0.15" textLength="33" lengthAdjust="spacingAndGlyphs">0.75060</text>
<rect x="1169" y="317" width="2" height="1" fill="#000"/>
<text x="1174" y="321.15" font-size="9.8" fill="#000" stroke="#000" stroke-width="0.15" textLength="33" lengthAdjust="spacingAndGlyphs">0.74360</text>
<rect x="1169" y="350" width="2" height="1" fill="#000"/>
<text x="1174" y="354.15" font-size="9.8" fill="#000" stroke="#000" stroke-width="0.15" textLength="33" lengthAdjust="spacingAndGlyphs">0.73660</text>
<rect x="1169" y="383" width="2" height="1" fill="#000"/>
<text x="1174" y="387.15" font-size="9.8" fill="#000" stroke="#000" stroke-width="0.15" textLength="33" lengthAdjust="spacingAndGlyphs">0.72960</text>
<rect x="1169" y="416" width="2" height="1" fill="#000"/>
<text x="1174" y="420.15" font-size="9.8" fill="#000" stroke="#000" stroke-width="0.15" textLength="33" lengthAdjust="spacingAndGlyphs">0.72280</text>
<rect x="1169" y="449" width="2" height="1" fill="#000"/>
<text x="1174" y="453.15" font-size="9.8" fill="#000" stroke="#000" stroke-width="0.15" textLength="33" lengthAdjust="spacingAndGlyphs">0.71580</text>
<rect x="1169" y="482" width="2" height="1" fill="#000"/>
<text x="1174" y="486.15" font-size="9.8" fill="#000" stroke="#000" stroke-width="0.15" textLength="33" lengthAdjust="spacingAndGlyphs">0.70880</text>
<rect x="1170" y="177" width="40" height="11" fill="#FF0000"/>
<text x="1174" y="185.75" font-size="9.8" fill="#fff" stroke="#fff" stroke-width="0.15" textLength="33" lengthAdjust="spacingAndGlyphs">0.77200</text>
<rect x="1170" y="247" width="40" height="11" fill="#FF0000"/>
<text x="1174" y="255.75" font-size="9.8" fill="#fff" stroke="#fff" stroke-width="0.15" textLength="33" lengthAdjust="spacingAndGlyphs">0.75716</text>
<rect x="1170" y="314" width="40" height="11" fill="#000000"/>
<text x="1174" y="322.75" font-size="9.8" fill="#fff" stroke="#fff" stroke-width="0.15" textLength="33" lengthAdjust="spacingAndGlyphs">0.74321</text>
<rect x="1170" y="328" width="40" height="11" fill="#00FF00"/>
<text x="1174" y="336.75" font-size="9.8" fill="#fff" stroke="#fff" stroke-width="0.15" textLength="33" lengthAdjust="spacingAndGlyphs">0.74007</text>
<rect x="1170" y="403" width="40" height="11" fill="#0000FF"/>
<text x="1174" y="411.75" font-size="9.8" fill="#fff" stroke="#fff" stroke-width="0.15" textLength="33" lengthAdjust="spacingAndGlyphs">0.72411</text>
<rect x="1170" y="474" width="40" height="11" fill="#0000FF"/>
<text x="1174" y="482.75" font-size="9.8" fill="#fff" stroke="#fff" stroke-width="0.15" textLength="33" lengthAdjust="spacingAndGlyphs">0.70926</text>
<rect x="1170" y="478" width="40" height="11" fill="#FF0000"/>
<text x="1174" y="486.75" font-size="9.8" fill="#fff" stroke="#fff" stroke-width="0.15" textLength="33" lengthAdjust="spacingAndGlyphs">0.70820</text>
<path d="M9.5 35.5 L12.5 32 L15.5 35.5 Z" fill="#000"/>
<text x="22" y="37.15" font-size="9.8" fill="#000" stroke="#000" stroke-width="0.15" textLength="65" lengthAdjust="spacingAndGlyphs">AUDUSD,Daily</text>
<text x="93" y="37.15" font-size="9.8" fill="#000" stroke="#000" stroke-width="0.15" textLength="140" lengthAdjust="spacingAndGlyphs">0.74276 0.74353 0.74193 0.74321</text>
<g clip-path="url(#cmacd)" shape-rendering="crispEdges">
<rect x="9" y="528" width="3" height="2" fill="#C0C0C0"/>
<rect x="13" y="526" width="3" height="4" fill="#C0C0C0"/>
<rect x="17" y="522" width="3" height="8" fill="#C0C0C0"/>
<rect x="21" y="520" width="3" height="10" fill="#C0C0C0"/>
<rect x="25" y="518" width="3" height="12" fill="#C0C0C0"/>
<rect x="29" y="516" width="3" height="14" fill="#C0C0C0"/>
<rect x="33" y="514" width="3" height="16" fill="#C0C0C0"/>
<rect x="37" y="515" width="3" height="15" fill="#C0C0C0"/>
<rect x="41" y="516" width="3" height="14" fill="#C0C0C0"/>
<rect x="45" y="511" width="3" height="19" fill="#C0C0C0"/>
<rect x="49" y="507" width="3" height="23" fill="#C0C0C0"/>
<rect x="53" y="503" width="3" height="27" fill="#C0C0C0"/>
<rect x="57" y="500" width="3" height="30" fill="#C0C0C0"/>
<rect x="61" y="496" width="3" height="34" fill="#C0C0C0"/>
<rect x="65" y="492" width="3" height="38" fill="#C0C0C0"/>
<rect x="69" y="499" width="3" height="31" fill="#C0C0C0"/>
<rect x="73" y="507" width="3" height="23" fill="#C0C0C0"/>
<rect x="77" y="510" width="3" height="20" fill="#C0C0C0"/>
<rect x="81" y="512" width="3" height="18" fill="#C0C0C0"/>
<rect x="85" y="513" width="3" height="17" fill="#C0C0C0"/>
<rect x="89" y="515" width="3" height="15" fill="#C0C0C0"/>
<rect x="93" y="523" width="3" height="7" fill="#C0C0C0"/>
<rect x="97" y="528" width="3" height="2" fill="#C0C0C0"/>
<rect x="101" y="530" width="3" height="3" fill="#C0C0C0"/>
<rect x="105" y="530" width="3" height="5" fill="#C0C0C0"/>
<rect x="109" y="530" width="3" height="6" fill="#C0C0C0"/>
<rect x="113" y="530" width="3" height="4" fill="#C0C0C0"/>
<rect x="117" y="530" width="3" height="4" fill="#C0C0C0"/>
<rect x="121" y="530" width="3" height="3" fill="#C0C0C0"/>
<rect x="125" y="530" width="3" height="4" fill="#C0C0C0"/>
<rect x="129" y="530" width="3" height="3" fill="#C0C0C0"/>
<rect x="133" y="530" width="3" height="5" fill="#C0C0C0"/>
<rect x="137" y="530" width="3" height="2" fill="#C0C0C0"/>
<rect x="141" y="530" width="3" height="2" fill="#C0C0C0"/>
<rect x="145" y="530" width="3" height="2" fill="#C0C0C0"/>
<rect x="149" y="530" width="3" height="1" fill="#C0C0C0"/>
<rect x="153" y="530" width="3" height="4" fill="#C0C0C0"/>
<rect x="157" y="530" width="3" height="9" fill="#C0C0C0"/>
<rect x="161" y="530" width="3" height="16" fill="#C0C0C0"/>
<rect x="165" y="530" width="3" height="18" fill="#C0C0C0"/>
<rect x="169" y="530" width="3" height="19" fill="#C0C0C0"/>
<rect x="173" y="530" width="3" height="19" fill="#C0C0C0"/>
<rect x="177" y="530" width="3" height="21" fill="#C0C0C0"/>
<rect x="181" y="530" width="3" height="22" fill="#C0C0C0"/>
<rect x="185" y="530" width="3" height="23" fill="#C0C0C0"/>
<rect x="189" y="530" width="3" height="22" fill="#C0C0C0"/>
<rect x="193" y="530" width="3" height="23" fill="#C0C0C0"/>
<rect x="197" y="530" width="3" height="20" fill="#C0C0C0"/>
<rect x="201" y="530" width="3" height="17" fill="#C0C0C0"/>
<rect x="205" y="530" width="3" height="17" fill="#C0C0C0"/>
<rect x="209" y="530" width="3" height="16" fill="#C0C0C0"/>
<rect x="213" y="530" width="3" height="15" fill="#C0C0C0"/>
<rect x="217" y="530" width="3" height="14" fill="#C0C0C0"/>
<rect x="221" y="530" width="3" height="14" fill="#C0C0C0"/>
<rect x="225" y="530" width="3" height="13" fill="#C0C0C0"/>
<rect x="229" y="530" width="3" height="8" fill="#C0C0C0"/>
<rect x="233" y="530" width="3" height="3" fill="#C0C0C0"/>
<rect x="237" y="529" width="3" height="1" fill="#C0C0C0"/>
<rect x="241" y="526" width="3" height="4" fill="#C0C0C0"/>
<rect x="245" y="523" width="3" height="7" fill="#C0C0C0"/>
<rect x="249" y="522" width="3" height="8" fill="#C0C0C0"/>
<rect x="253" y="520" width="3" height="10" fill="#C0C0C0"/>
<rect x="257" y="520" width="3" height="10" fill="#C0C0C0"/>
<rect x="261" y="519" width="3" height="11" fill="#C0C0C0"/>
<rect x="265" y="518" width="3" height="12" fill="#C0C0C0"/>
<rect x="269" y="515" width="3" height="15" fill="#C0C0C0"/>
<rect x="273" y="515" width="3" height="15" fill="#C0C0C0"/>
<rect x="277" y="514" width="3" height="16" fill="#C0C0C0"/>
<rect x="281" y="515" width="3" height="15" fill="#C0C0C0"/>
<rect x="285" y="518" width="3" height="12" fill="#C0C0C0"/>
<rect x="289" y="520" width="3" height="10" fill="#C0C0C0"/>
<rect x="293" y="520" width="3" height="10" fill="#C0C0C0"/>
<rect x="297" y="523" width="3" height="7" fill="#C0C0C0"/>
<rect x="301" y="523" width="3" height="7" fill="#C0C0C0"/>
<rect x="305" y="522" width="3" height="8" fill="#C0C0C0"/>
<rect x="309" y="517" width="3" height="13" fill="#C0C0C0"/>
<rect x="313" y="514" width="3" height="16" fill="#C0C0C0"/>
<rect x="317" y="510" width="3" height="20" fill="#C0C0C0"/>
<rect x="321" y="509" width="3" height="21" fill="#C0C0C0"/>
<rect x="325" y="513" width="3" height="17" fill="#C0C0C0"/>
<rect x="329" y="518" width="3" height="12" fill="#C0C0C0"/>
<rect x="333" y="519" width="3" height="11" fill="#C0C0C0"/>
<rect x="337" y="519" width="3" height="11" fill="#C0C0C0"/>
<rect x="341" y="520" width="3" height="10" fill="#C0C0C0"/>
<rect x="345" y="521" width="3" height="9" fill="#C0C0C0"/>
<rect x="349" y="523" width="3" height="7" fill="#C0C0C0"/>
<rect x="353" y="523" width="3" height="7" fill="#C0C0C0"/>
<rect x="357" y="525" width="3" height="5" fill="#C0C0C0"/>
<rect x="361" y="527" width="3" height="3" fill="#C0C0C0"/>
<rect x="365" y="528" width="3" height="2" fill="#C0C0C0"/>
<rect x="369" y="529" width="3" height="1" fill="#C0C0C0"/>
<rect x="377" y="530" width="3" height="1" fill="#C0C0C0"/>
<rect x="381" y="530" width="3" height="3" fill="#C0C0C0"/>
<rect x="385" y="530" width="3" height="4" fill="#C0C0C0"/>
<rect x="389" y="530" width="3" height="4" fill="#C0C0C0"/>
<rect x="393" y="530" width="3" height="2" fill="#C0C0C0"/>
<rect x="397" y="530" width="3" height="2" fill="#C0C0C0"/>
<rect x="401" y="530" width="3" height="6" fill="#C0C0C0"/>
<rect x="405" y="530" width="3" height="5" fill="#C0C0C0"/>
<rect x="409" y="530" width="3" height="4" fill="#C0C0C0"/>
<rect x="413" y="530" width="3" height="2" fill="#C0C0C0"/>
<rect x="417" y="530" width="3" height="2" fill="#C0C0C0"/>
<rect x="421" y="530" width="3" height="2" fill="#C0C0C0"/>
<rect x="425" y="530" width="3" height="2" fill="#C0C0C0"/>
<rect x="429" y="530" width="3" height="4" fill="#C0C0C0"/>
<rect x="433" y="530" width="3" height="5" fill="#C0C0C0"/>
<rect x="437" y="530" width="3" height="5" fill="#C0C0C0"/>
<rect x="441" y="530" width="3" height="7" fill="#C0C0C0"/>
<rect x="445" y="530" width="3" height="7" fill="#C0C0C0"/>
<rect x="449" y="530" width="3" height="14" fill="#C0C0C0"/>
<rect x="453" y="530" width="3" height="22" fill="#C0C0C0"/>
<rect x="457" y="530" width="3" height="28" fill="#C0C0C0"/>
<rect x="461" y="530" width="3" height="31" fill="#C0C0C0"/>
<rect x="465" y="530" width="3" height="33" fill="#C0C0C0"/>
<rect x="469" y="530" width="3" height="31" fill="#C0C0C0"/>
<rect x="473" y="530" width="3" height="30" fill="#C0C0C0"/>
<rect x="477" y="530" width="3" height="28" fill="#C0C0C0"/>
<rect x="481" y="530" width="3" height="27" fill="#C0C0C0"/>
<rect x="485" y="530" width="3" height="26" fill="#C0C0C0"/>
<rect x="489" y="530" width="3" height="28" fill="#C0C0C0"/>
<rect x="493" y="530" width="3" height="30" fill="#C0C0C0"/>
<rect x="497" y="530" width="3" height="32" fill="#C0C0C0"/>
<rect x="501" y="530" width="3" height="32" fill="#C0C0C0"/>
<rect x="505" y="530" width="3" height="30" fill="#C0C0C0"/>
<rect x="509" y="530" width="3" height="28" fill="#C0C0C0"/>
<rect x="513" y="530" width="3" height="28" fill="#C0C0C0"/>
<rect x="517" y="530" width="3" height="29" fill="#C0C0C0"/>
<rect x="521" y="530" width="3" height="31" fill="#C0C0C0"/>
<rect x="525" y="530" width="3" height="30" fill="#C0C0C0"/>
<rect x="529" y="530" width="3" height="28" fill="#C0C0C0"/>
<rect x="533" y="530" width="3" height="27" fill="#C0C0C0"/>
<rect x="537" y="530" width="3" height="26" fill="#C0C0C0"/>
<rect x="541" y="530" width="3" height="26" fill="#C0C0C0"/>
<rect x="545" y="530" width="3" height="27" fill="#C0C0C0"/>
<rect x="549" y="530" width="3" height="28" fill="#C0C0C0"/>
<rect x="553" y="530" width="3" height="29" fill="#C0C0C0"/>
<rect x="557" y="530" width="3" height="33" fill="#C0C0C0"/>
<rect x="561" y="530" width="3" height="36" fill="#C0C0C0"/>
<rect x="565" y="530" width="3" height="36" fill="#C0C0C0"/>
<rect x="569" y="530" width="3" height="36" fill="#C0C0C0"/>
<rect x="573" y="530" width="3" height="35" fill="#C0C0C0"/>
<rect x="577" y="530" width="3" height="34" fill="#C0C0C0"/>
<rect x="581" y="530" width="3" height="32" fill="#C0C0C0"/>
<rect x="585" y="530" width="3" height="31" fill="#C0C0C0"/>
<rect x="589" y="530" width="3" height="31" fill="#C0C0C0"/>
<rect x="593" y="530" width="3" height="28" fill="#C0C0C0"/>
<rect x="597" y="530" width="3" height="27" fill="#C0C0C0"/>
<rect x="601" y="530" width="3" height="27" fill="#C0C0C0"/>
<rect x="605" y="530" width="3" height="26" fill="#C0C0C0"/>
<rect x="609" y="530" width="3" height="23" fill="#C0C0C0"/>
<rect x="613" y="530" width="3" height="21" fill="#C0C0C0"/>
<rect x="617" y="530" width="3" height="18" fill="#C0C0C0"/>
<rect x="621" y="530" width="3" height="18" fill="#C0C0C0"/>
<rect x="625" y="530" width="3" height="18" fill="#C0C0C0"/>
<rect x="629" y="530" width="3" height="18" fill="#C0C0C0"/>
<rect x="633" y="530" width="3" height="18" fill="#C0C0C0"/>
<rect x="637" y="530" width="3" height="16" fill="#C0C0C0"/>
<rect x="641" y="530" width="3" height="16" fill="#C0C0C0"/>
<rect x="645" y="530" width="3" height="14" fill="#C0C0C0"/>
<rect x="649" y="530" width="3" height="12" fill="#C0C0C0"/>
<rect x="653" y="530" width="3" height="13" fill="#C0C0C0"/>
<rect x="657" y="530" width="3" height="17" fill="#C0C0C0"/>
<rect x="661" y="530" width="3" height="21" fill="#C0C0C0"/>
<rect x="665" y="530" width="3" height="27" fill="#C0C0C0"/>
<rect x="669" y="530" width="3" height="33" fill="#C0C0C0"/>
<rect x="673" y="530" width="3" height="37" fill="#C0C0C0"/>
<rect x="677" y="530" width="3" height="36" fill="#C0C0C0"/>
<rect x="681" y="530" width="3" height="33" fill="#C0C0C0"/>
<rect x="685" y="530" width="3" height="30" fill="#C0C0C0"/>
<rect x="689" y="530" width="3" height="28" fill="#C0C0C0"/>
<rect x="693" y="530" width="3" height="23" fill="#C0C0C0"/>
<rect x="697" y="530" width="3" height="19" fill="#C0C0C0"/>
<rect x="701" y="530" width="3" height="16" fill="#C0C0C0"/>
<rect x="705" y="530" width="3" height="14" fill="#C0C0C0"/>
<rect x="709" y="530" width="3" height="8" fill="#C0C0C0"/>
<rect x="713" y="530" width="3" height="3" fill="#C0C0C0"/>
<rect x="717" y="526" width="3" height="4" fill="#C0C0C0"/>
<rect x="721" y="520" width="3" height="10" fill="#C0C0C0"/>
<rect x="725" y="517" width="3" height="13" fill="#C0C0C0"/>
<rect x="729" y="517" width="3" height="13" fill="#C0C0C0"/>
<rect x="733" y="518" width="3" height="12" fill="#C0C0C0"/>
<rect x="737" y="518" width="3" height="12" fill="#C0C0C0"/>
<rect x="741" y="519" width="3" height="11" fill="#C0C0C0"/>
<rect x="745" y="520" width="3" height="10" fill="#C0C0C0"/>
<rect x="749" y="521" width="3" height="9" fill="#C0C0C0"/>
<rect x="753" y="523" width="3" height="7" fill="#C0C0C0"/>
<rect x="757" y="525" width="3" height="5" fill="#C0C0C0"/>
<rect x="761" y="529" width="3" height="1" fill="#C0C0C0"/>
<rect x="765" y="530" width="3" height="2" fill="#C0C0C0"/>
<rect x="769" y="530" width="3" height="5" fill="#C0C0C0"/>
<rect x="773" y="530" width="3" height="8" fill="#C0C0C0"/>
<rect x="777" y="530" width="3" height="11" fill="#C0C0C0"/>
<rect x="781" y="530" width="3" height="12" fill="#C0C0C0"/>
<rect x="785" y="530" width="3" height="11" fill="#C0C0C0"/>
<rect x="789" y="530" width="3" height="12" fill="#C0C0C0"/>
<rect x="793" y="530" width="3" height="13" fill="#C0C0C0"/>
<rect x="797" y="530" width="3" height="12" fill="#C0C0C0"/>
<rect x="801" y="530" width="3" height="13" fill="#C0C0C0"/>
<rect x="805" y="530" width="3" height="16" fill="#C0C0C0"/>
<rect x="809" y="530" width="3" height="17" fill="#C0C0C0"/>
<rect x="813" y="530" width="3" height="15" fill="#C0C0C0"/>
<rect x="817" y="530" width="3" height="14" fill="#C0C0C0"/>
<rect x="821" y="530" width="3" height="12" fill="#C0C0C0"/>
<rect x="825" y="530" width="3" height="9" fill="#C0C0C0"/>
<rect x="829" y="530" width="3" height="9" fill="#C0C0C0"/>
<rect x="833" y="530" width="3" height="6" fill="#C0C0C0"/>
<rect x="837" y="530" width="3" height="4" fill="#C0C0C0"/>
<rect x="841" y="530" width="3" height="2" fill="#C0C0C0"/>
<rect x="845" y="528" width="3" height="2" fill="#C0C0C0"/>
<rect x="849" y="525" width="3" height="5" fill="#C0C0C0"/>
<rect x="853" y="523" width="3" height="7" fill="#C0C0C0"/>
<rect x="857" y="519" width="3" height="11" fill="#C0C0C0"/>
<rect x="861" y="516" width="3" height="14" fill="#C0C0C0"/>
<rect x="865" y="513" width="3" height="17" fill="#C0C0C0"/>
<rect x="869" y="512" width="3" height="18" fill="#C0C0C0"/>
<rect x="873" y="508" width="3" height="22" fill="#C0C0C0"/>
<rect x="877" y="503" width="3" height="27" fill="#C0C0C0"/>
<rect x="881" y="501" width="3" height="29" fill="#C0C0C0"/>
<rect x="885" y="501" width="3" height="29" fill="#C0C0C0"/>
<rect x="889" y="502" width="3" height="28" fill="#C0C0C0"/>
<rect x="893" y="501" width="3" height="29" fill="#C0C0C0"/>
<rect x="897" y="500" width="3" height="30" fill="#C0C0C0"/>
<rect x="901" y="499" width="3" height="31" fill="#C0C0C0"/>
<rect x="905" y="498" width="3" height="32" fill="#C0C0C0"/>
<rect x="909" y="498" width="3" height="32" fill="#C0C0C0"/>
<rect x="913" y="498" width="3" height="32" fill="#C0C0C0"/>
<rect x="917" y="499" width="3" height="31" fill="#C0C0C0"/>
<rect x="921" y="504" width="3" height="26" fill="#C0C0C0"/>
<rect x="925" y="508" width="3" height="22" fill="#C0C0C0"/>
<path d="M912 499h12v1h-12zM908 500h4v1h-4zM924 500h3v1h-3zM905 501h3v1h-3zM76 502h8v1h-8zM903 502h2v1h-2zM72 503h4v1h-4zM84 503h4v1h-4zM900 503h3v1h-3zM68 504h4v1h-4zM88 504h3v1h-3zM897 504h3v1h-3zM66 505h2v1h-2zM91 505h1v1h-1zM895 505h2v1h-2zM64 506h2v1h-2zM92 506h2v1h-2zM893 506h2v1h-2zM63 507h1v1h-1zM94 507h1v1h-1zM891 507h2v1h-2zM61 508h2v1h-2zM95 508h1v1h-1zM889 508h2v1h-2zM59 509h2v1h-2zM96 509h2v1h-2zM887 509h2v1h-2zM58 510h1v1h-1zM98 510h1v1h-1zM886 510h1v1h-1zM56 511h2v1h-2zM99 511h1v1h-1zM884 511h2v1h-2zM55 512h1v1h-1zM100 512h1v1h-1zM883 512h1v1h-1zM53 513h2v1h-2zM100 513h1v1h-1zM882 513h1v1h-1zM51 514h2v1h-2zM101 514h1v1h-1zM880 514h2v1h-2zM49 515h2v1h-2zM102 515h1v1h-1zM336 515h12v1h-12zM879 515h1v1h-1zM47 516h2v1h-2zM103 516h1v1h-1zM324 516h12v1h-12zM348 516h3v1h-3zM878 516h1v1h-1zM45 517h2v1h-2zM104 517h1v1h-1zM280 517h20v1h-20zM320 517h4v1h-4zM351 517h2v1h-2zM876 517h2v1h-2zM43 518h2v1h-2zM105 518h1v1h-1zM276 518h4v1h-4zM300 518h8v1h-8zM316 518h4v1h-4zM353 518h2v1h-2zM875 518h1v1h-1zM41 519h2v1h-2zM106 519h1v1h-1zM273 519h3v1h-3zM308 519h8v1h-8zM355 519h2v1h-2zM748 519h12v1h-12zM874 519h1v1h-1zM39 520h2v1h-2zM107 520h1v1h-1zM271 520h2v1h-2zM357 520h3v1h-3zM745 520h3v1h-3zM760 520h3v1h-3zM872 520h2v1h-2zM37 521h2v1h-2zM108 521h2v1h-2zM269 521h2v1h-2zM360 521h4v1h-4zM743 521h2v1h-2zM763 521h2v1h-2zM871 521h1v1h-1zM35 522h2v1h-2zM110 522h1v1h-1zM267 522h2v1h-2zM364 522h3v1h-3zM742 522h1v1h-1zM765 522h2v1h-2zM870 522h1v1h-1zM33 523h2v1h-2zM111 523h1v1h-1zM265 523h2v1h-2zM367 523h2v1h-2zM740 523h2v1h-2zM767 523h2v1h-2zM868 523h2v1h-2zM31 524h2v1h-2zM112 524h2v1h-2zM263 524h2v1h-2zM369 524h3v1h-3zM739 524h1v1h-1zM769 524h2v1h-2zM867 524h1v1h-1zM30 525h1v1h-1zM114 525h1v1h-1zM262 525h1v1h-1zM372 525h4v1h-4zM738 525h1v1h-1zM771 525h2v1h-2zM865 525h2v1h-2zM28 526h2v1h-2zM115 526h2v1h-2zM260 526h2v1h-2zM376 526h4v1h-4zM736 526h2v1h-2zM773 526h2v1h-2zM863 526h2v1h-2zM27 527h1v1h-1zM117 527h2v1h-2zM259 527h1v1h-1zM380 527h3v1h-3zM735 527h1v1h-1zM775 527h1v1h-1zM862 527h1v1h-1zM24 528h3v1h-3zM119 528h2v1h-2zM257 528h2v1h-2zM383 528h2v1h-2zM734 528h1v1h-1zM776 528h2v1h-2zM860 528h2v1h-2zM6 529h2v1h-2zM20 529h4v1h-4zM121 529h2v1h-2zM255 529h2v1h-2zM385 529h3v1h-3zM733 529h1v1h-1zM778 529h1v1h-1zM859 529h1v1h-1zM8 530h4v1h-4zM16 530h4v1h-4zM123 530h1v1h-1zM254 530h1v1h-1zM388 530h4v1h-4zM732 530h1v1h-1zM779 530h2v1h-2zM858 530h1v1h-1zM12 531h4v1h-4zM124 531h2v1h-2zM252 531h2v1h-2zM392 531h8v1h-8zM731 531h1v1h-1zM781 531h2v1h-2zM856 531h2v1h-2zM126 532h2v1h-2zM148 532h8v1h-8zM251 532h1v1h-1zM400 532h4v1h-4zM730 532h1v1h-1zM783 532h1v1h-1zM855 532h1v1h-1zM128 533h4v1h-4zM136 533h12v1h-12zM156 533h4v1h-4zM250 533h1v1h-1zM404 533h43v1h-43zM729 533h1v1h-1zM784 533h2v1h-2zM853 533h2v1h-2zM132 534h4v1h-4zM160 534h3v1h-3zM248 534h2v1h-2zM447 534h2v1h-2zM728 534h1v1h-1zM786 534h1v1h-1zM851 534h2v1h-2zM163 535h2v1h-2zM247 535h1v1h-1zM449 535h2v1h-2zM727 535h1v1h-1zM787 535h2v1h-2zM849 535h2v1h-2zM165 536h2v1h-2zM245 536h2v1h-2zM451 536h2v1h-2zM726 536h1v1h-1zM789 536h2v1h-2zM847 536h2v1h-2zM167 537h2v1h-2zM243 537h2v1h-2zM453 537h2v1h-2zM725 537h1v1h-1zM791 537h2v1h-2zM845 537h2v1h-2zM169 538h2v1h-2zM241 538h2v1h-2zM455 538h1v1h-1zM724 538h1v1h-1zM793 538h3v1h-3zM843 538h2v1h-2zM171 539h2v1h-2zM239 539h2v1h-2zM456 539h2v1h-2zM723 539h1v1h-1zM796 539h4v1h-4zM841 539h2v1h-2zM173 540h2v1h-2zM237 540h2v1h-2zM458 540h1v1h-1zM722 540h1v1h-1zM800 540h3v1h-3zM839 540h2v1h-2zM175 541h2v1h-2zM235 541h2v1h-2zM459 541h1v1h-1zM721 541h1v1h-1zM803 541h2v1h-2zM836 541h3v1h-3zM177 542h2v1h-2zM233 542h2v1h-2zM460 542h2v1h-2zM720 542h1v1h-1zM805 542h3v1h-3zM828 542h8v1h-8zM179 543h2v1h-2zM231 543h2v1h-2zM462 543h1v1h-1zM720 543h1v1h-1zM808 543h20v1h-20zM181 544h2v1h-2zM229 544h2v1h-2zM463 544h1v1h-1zM719 544h1v1h-1zM183 545h2v1h-2zM227 545h2v1h-2zM464 545h2v1h-2zM652 545h12v1h-12zM718 545h1v1h-1zM185 546h2v1h-2zM224 546h3v1h-3zM466 546h1v1h-1zM648 546h4v1h-4zM664 546h3v1h-3zM717 546h1v1h-1zM187 547h2v1h-2zM220 547h4v1h-4zM467 547h1v1h-1zM644 547h4v1h-4zM667 547h2v1h-2zM716 547h1v1h-1zM189 548h2v1h-2zM216 548h4v1h-4zM468 548h2v1h-2zM640 548h4v1h-4zM669 548h2v1h-2zM715 548h1v1h-1zM191 549h2v1h-2zM208 549h8v1h-8zM470 549h1v1h-1zM636 549h4v1h-4zM671 549h2v1h-2zM714 549h1v1h-1zM193 550h15v1h-15zM471 550h1v1h-1zM632 550h4v1h-4zM673 550h2v1h-2zM713 550h1v1h-1zM472 551h2v1h-2zM628 551h4v1h-4zM675 551h1v1h-1zM712 551h1v1h-1zM474 552h1v1h-1zM625 552h3v1h-3zM676 552h2v1h-2zM711 552h1v1h-1zM475 553h2v1h-2zM623 553h2v1h-2zM678 553h1v1h-1zM710 553h1v1h-1zM477 554h2v1h-2zM620 554h3v1h-3zM679 554h2v1h-2zM708 554h2v1h-2zM479 555h1v1h-1zM617 555h3v1h-3zM681 555h2v1h-2zM707 555h1v1h-1zM480 556h2v1h-2zM615 556h2v1h-2zM683 556h2v1h-2zM705 556h2v1h-2zM482 557h2v1h-2zM548 557h4v1h-4zM612 557h3v1h-3zM685 557h3v1h-3zM703 557h2v1h-2zM484 558h4v1h-4zM508 558h8v1h-8zM536 558h12v1h-12zM552 558h12v1h-12zM609 558h3v1h-3zM688 558h4v1h-4zM700 558h3v1h-3zM488 559h20v1h-20zM516 559h20v1h-20zM564 559h4v1h-4zM607 559h2v1h-2zM692 559h8v1h-8zM568 560h4v1h-4zM604 560h3v1h-3zM572 561h4v1h-4zM600 561h4v1h-4zM576 562h4v1h-4zM596 562h4v1h-4zM580 563h16v1h-16z" fill="#FF0000"/>
</g>
<text x="10" y="500.15" font-size="9.8" fill="#000" stroke="#000" stroke-width="0.15" textLength="148" lengthAdjust="spacingAndGlyphs">MACD(12,26,9) 0.003750 0.005041</text>
<rect x="1169" y="489" width="1" height="1" fill="#000"/>
<text x="1172" y="498.15" font-size="9.8" fill="#000" stroke="#000" stroke-width="0.15" textLength="42" lengthAdjust="spacingAndGlyphs">0.007015</text>
<rect x="1169" y="530" width="1" height="1" fill="#000"/>
<text x="1172" y="534.15" font-size="9.8" fill="#000" stroke="#000" stroke-width="0.15" textLength="18" lengthAdjust="spacingAndGlyphs">0.00</text>
<rect x="1169" y="570" width="1" height="1" fill="#000"/>
<text x="1172" y="568.15" font-size="9.8" fill="#000" stroke="#000" stroke-width="0.15" textLength="48" lengthAdjust="spacingAndGlyphs">-0.006923</text>
<g shape-rendering="crispEdges">
<rect x="7" y="600" width="3" height="1" fill="#C0C0C0"/>
<rect x="13" y="600" width="3" height="1" fill="#C0C0C0"/>
<rect x="19" y="600" width="3" height="1" fill="#C0C0C0"/>
<rect x="25" y="600" width="3" height="1" fill="#C0C0C0"/>
<rect x="31" y="600" width="3" height="1" fill="#C0C0C0"/>
<rect x="37" y="600" width="3" height="1" fill="#C0C0C0"/>
<rect x="43" y="600" width="3" height="1" fill="#C0C0C0"/>
<rect x="49" y="600" width="3" height="1" fill="#C0C0C0"/>
<rect x="55" y="600" width="3" height="1" fill="#C0C0C0"/>
<rect x="61" y="600" width="3" height="1" fill="#C0C0C0"/>
<rect x="67" y="600" width="3" height="1" fill="#C0C0C0"/>
<rect x="73" y="600" width="3" height="1" fill="#C0C0C0"/>
<rect x="79" y="600" width="3" height="1" fill="#C0C0C0"/>
<rect x="85" y="600" width="3" height="1" fill="#C0C0C0"/>
<rect x="91" y="600" width="3" height="1" fill="#C0C0C0"/>
<rect x="97" y="600" width="3" height="1" fill="#C0C0C0"/>
<rect x="103" y="600" width="3" height="1" fill="#C0C0C0"/>
<rect x="109" y="600" width="3" height="1" fill="#C0C0C0"/>
<rect x="115" y="600" width="3" height="1" fill="#C0C0C0"/>
<rect x="121" y="600" width="3" height="1" fill="#C0C0C0"/>
<rect x="127" y="600" width="3" height="1" fill="#C0C0C0"/>
<rect x="133" y="600" width="3" height="1" fill="#C0C0C0"/>
<rect x="139" y="600" width="3" height="1" fill="#C0C0C0"/>
<rect x="145" y="600" width="3" height="1" fill="#C0C0C0"/>
<rect x="151" y="600" width="3" height="1" fill="#C0C0C0"/>
<rect x="157" y="600" width="3" height="1" fill="#C0C0C0"/>
<rect x="163" y="600" width="3" height="1" fill="#C0C0C0"/>
<rect x="169" y="600" width="3" height="1" fill="#C0C0C0"/>
<rect x="175" y="600" width="3" height="1" fill="#C0C0C0"/>
<rect x="181" y="600" width="3" height="1" fill="#C0C0C0"/>
<rect x="187" y="600" width="3" height="1" fill="#C0C0C0"/>
<rect x="193" y="600" width="3" height="1" fill="#C0C0C0"/>
<rect x="199" y="600" width="3" height="1" fill="#C0C0C0"/>
<rect x="205" y="600" width="3" height="1" fill="#C0C0C0"/>
<rect x="211" y="600" width="3" height="1" fill="#C0C0C0"/>
<rect x="217" y="600" width="3" height="1" fill="#C0C0C0"/>
<rect x="223" y="600" width="3" height="1" fill="#C0C0C0"/>
<rect x="229" y="600" width="3" height="1" fill="#C0C0C0"/>
<rect x="235" y="600" width="3" height="1" fill="#C0C0C0"/>
<rect x="241" y="600" width="3" height="1" fill="#C0C0C0"/>
<rect x="247" y="600" width="3" height="1" fill="#C0C0C0"/>
<rect x="253" y="600" width="3" height="1" fill="#C0C0C0"/>
<rect x="259" y="600" width="3" height="1" fill="#C0C0C0"/>
<rect x="265" y="600" width="3" height="1" fill="#C0C0C0"/>
<rect x="271" y="600" width="3" height="1" fill="#C0C0C0"/>
<rect x="277" y="600" width="3" height="1" fill="#C0C0C0"/>
<rect x="283" y="600" width="3" height="1" fill="#C0C0C0"/>
<rect x="289" y="600" width="3" height="1" fill="#C0C0C0"/>
<rect x="295" y="600" width="3" height="1" fill="#C0C0C0"/>
<rect x="301" y="600" width="3" height="1" fill="#C0C0C0"/>
<rect x="307" y="600" width="3" height="1" fill="#C0C0C0"/>
<rect x="313" y="600" width="3" height="1" fill="#C0C0C0"/>
<rect x="319" y="600" width="3" height="1" fill="#C0C0C0"/>
<rect x="325" y="600" width="3" height="1" fill="#C0C0C0"/>
<rect x="331" y="600" width="3" height="1" fill="#C0C0C0"/>
<rect x="337" y="600" width="3" height="1" fill="#C0C0C0"/>
<rect x="343" y="600" width="3" height="1" fill="#C0C0C0"/>
<rect x="349" y="600" width="3" height="1" fill="#C0C0C0"/>
<rect x="355" y="600" width="3" height="1" fill="#C0C0C0"/>
<rect x="361" y="600" width="3" height="1" fill="#C0C0C0"/>
<rect x="367" y="600" width="3" height="1" fill="#C0C0C0"/>
<rect x="373" y="600" width="3" height="1" fill="#C0C0C0"/>
<rect x="379" y="600" width="3" height="1" fill="#C0C0C0"/>
<rect x="385" y="600" width="3" height="1" fill="#C0C0C0"/>
<rect x="391" y="600" width="3" height="1" fill="#C0C0C0"/>
<rect x="397" y="600" width="3" height="1" fill="#C0C0C0"/>
<rect x="403" y="600" width="3" height="1" fill="#C0C0C0"/>
<rect x="409" y="600" width="3" height="1" fill="#C0C0C0"/>
<rect x="415" y="600" width="3" height="1" fill="#C0C0C0"/>
<rect x="421" y="600" width="3" height="1" fill="#C0C0C0"/>
<rect x="427" y="600" width="3" height="1" fill="#C0C0C0"/>
<rect x="433" y="600" width="3" height="1" fill="#C0C0C0"/>
<rect x="439" y="600" width="3" height="1" fill="#C0C0C0"/>
<rect x="445" y="600" width="3" height="1" fill="#C0C0C0"/>
<rect x="451" y="600" width="3" height="1" fill="#C0C0C0"/>
<rect x="457" y="600" width="3" height="1" fill="#C0C0C0"/>
<rect x="463" y="600" width="3" height="1" fill="#C0C0C0"/>
<rect x="469" y="600" width="3" height="1" fill="#C0C0C0"/>
<rect x="475" y="600" width="3" height="1" fill="#C0C0C0"/>
<rect x="481" y="600" width="3" height="1" fill="#C0C0C0"/>
<rect x="487" y="600" width="3" height="1" fill="#C0C0C0"/>
<rect x="493" y="600" width="3" height="1" fill="#C0C0C0"/>
<rect x="499" y="600" width="3" height="1" fill="#C0C0C0"/>
<rect x="505" y="600" width="3" height="1" fill="#C0C0C0"/>
<rect x="511" y="600" width="3" height="1" fill="#C0C0C0"/>
<rect x="517" y="600" width="3" height="1" fill="#C0C0C0"/>
<rect x="523" y="600" width="3" height="1" fill="#C0C0C0"/>
<rect x="529" y="600" width="3" height="1" fill="#C0C0C0"/>
<rect x="535" y="600" width="3" height="1" fill="#C0C0C0"/>
<rect x="541" y="600" width="3" height="1" fill="#C0C0C0"/>
<rect x="547" y="600" width="3" height="1" fill="#C0C0C0"/>
<rect x="553" y="600" width="3" height="1" fill="#C0C0C0"/>
<rect x="559" y="600" width="3" height="1" fill="#C0C0C0"/>
<rect x="565" y="600" width="3" height="1" fill="#C0C0C0"/>
<rect x="571" y="600" width="3" height="1" fill="#C0C0C0"/>
<rect x="577" y="600" width="3" height="1" fill="#C0C0C0"/>
<rect x="583" y="600" width="3" height="1" fill="#C0C0C0"/>
<rect x="589" y="600" width="3" height="1" fill="#C0C0C0"/>
<rect x="595" y="600" width="3" height="1" fill="#C0C0C0"/>
<rect x="601" y="600" width="3" height="1" fill="#C0C0C0"/>
<rect x="607" y="600" width="3" height="1" fill="#C0C0C0"/>
<rect x="613" y="600" width="3" height="1" fill="#C0C0C0"/>
<rect x="619" y="600" width="3" height="1" fill="#C0C0C0"/>
<rect x="625" y="600" width="3" height="1" fill="#C0C0C0"/>
<rect x="631" y="600" width="3" height="1" fill="#C0C0C0"/>
<rect x="637" y="600" width="3" height="1" fill="#C0C0C0"/>
<rect x="643" y="600" width="3" height="1" fill="#C0C0C0"/>
<rect x="649" y="600" width="3" height="1" fill="#C0C0C0"/>
<rect x="655" y="600" width="3" height="1" fill="#C0C0C0"/>
<rect x="661" y="600" width="3" height="1" fill="#C0C0C0"/>
<rect x="667" y="600" width="3" height="1" fill="#C0C0C0"/>
<rect x="673" y="600" width="3" height="1" fill="#C0C0C0"/>
<rect x="679" y="600" width="3" height="1" fill="#C0C0C0"/>
<rect x="685" y="600" width="3" height="1" fill="#C0C0C0"/>
<rect x="691" y="600" width="3" height="1" fill="#C0C0C0"/>
<rect x="697" y="600" width="3" height="1" fill="#C0C0C0"/>
<rect x="703" y="600" width="3" height="1" fill="#C0C0C0"/>
<rect x="709" y="600" width="3" height="1" fill="#C0C0C0"/>
<rect x="715" y="600" width="3" height="1" fill="#C0C0C0"/>
<rect x="721" y="600" width="3" height="1" fill="#C0C0C0"/>
<rect x="727" y="600" width="3" height="1" fill="#C0C0C0"/>
<rect x="733" y="600" width="3" height="1" fill="#C0C0C0"/>
<rect x="739" y="600" width="3" height="1" fill="#C0C0C0"/>
<rect x="745" y="600" width="3" height="1" fill="#C0C0C0"/>
<rect x="751" y="600" width="3" height="1" fill="#C0C0C0"/>
<rect x="757" y="600" width="3" height="1" fill="#C0C0C0"/>
<rect x="763" y="600" width="3" height="1" fill="#C0C0C0"/>
<rect x="769" y="600" width="3" height="1" fill="#C0C0C0"/>
<rect x="775" y="600" width="3" height="1" fill="#C0C0C0"/>
<rect x="781" y="600" width="3" height="1" fill="#C0C0C0"/>
<rect x="787" y="600" width="3" height="1" fill="#C0C0C0"/>
<rect x="793" y="600" width="3" height="1" fill="#C0C0C0"/>
<rect x="799" y="600" width="3" height="1" fill="#C0C0C0"/>
<rect x="805" y="600" width="3" height="1" fill="#C0C0C0"/>
<rect x="811" y="600" width="3" height="1" fill="#C0C0C0"/>
<rect x="817" y="600" width="3" height="1" fill="#C0C0C0"/>
<rect x="823" y="600" width="3" height="1" fill="#C0C0C0"/>
<rect x="829" y="600" width="3" height="1" fill="#C0C0C0"/>
<rect x="835" y="600" width="3" height="1" fill="#C0C0C0"/>
<rect x="841" y="600" width="3" height="1" fill="#C0C0C0"/>
<rect x="847" y="600" width="3" height="1" fill="#C0C0C0"/>
<rect x="853" y="600" width="3" height="1" fill="#C0C0C0"/>
<rect x="859" y="600" width="3" height="1" fill="#C0C0C0"/>
<rect x="865" y="600" width="3" height="1" fill="#C0C0C0"/>
<rect x="871" y="600" width="3" height="1" fill="#C0C0C0"/>
<rect x="877" y="600" width="3" height="1" fill="#C0C0C0"/>
<rect x="883" y="600" width="3" height="1" fill="#C0C0C0"/>
<rect x="889" y="600" width="3" height="1" fill="#C0C0C0"/>
<rect x="895" y="600" width="3" height="1" fill="#C0C0C0"/>
<rect x="901" y="600" width="3" height="1" fill="#C0C0C0"/>
<rect x="907" y="600" width="3" height="1" fill="#C0C0C0"/>
<rect x="913" y="600" width="3" height="1" fill="#C0C0C0"/>
<rect x="919" y="600" width="3" height="1" fill="#C0C0C0"/>
<rect x="925" y="600" width="3" height="1" fill="#C0C0C0"/>
<rect x="931" y="600" width="3" height="1" fill="#C0C0C0"/>
<rect x="937" y="600" width="3" height="1" fill="#C0C0C0"/>
<rect x="943" y="600" width="3" height="1" fill="#C0C0C0"/>
<rect x="949" y="600" width="3" height="1" fill="#C0C0C0"/>
<rect x="955" y="600" width="3" height="1" fill="#C0C0C0"/>
<rect x="961" y="600" width="3" height="1" fill="#C0C0C0"/>
<rect x="967" y="600" width="3" height="1" fill="#C0C0C0"/>
<rect x="973" y="600" width="3" height="1" fill="#C0C0C0"/>
<rect x="979" y="600" width="3" height="1" fill="#C0C0C0"/>
<rect x="985" y="600" width="3" height="1" fill="#C0C0C0"/>
<rect x="991" y="600" width="3" height="1" fill="#C0C0C0"/>
<rect x="997" y="600" width="3" height="1" fill="#C0C0C0"/>
<rect x="1003" y="600" width="3" height="1" fill="#C0C0C0"/>
<rect x="1009" y="600" width="3" height="1" fill="#C0C0C0"/>
<rect x="1015" y="600" width="3" height="1" fill="#C0C0C0"/>
<rect x="1021" y="600" width="3" height="1" fill="#C0C0C0"/>
<rect x="1027" y="600" width="3" height="1" fill="#C0C0C0"/>
<rect x="1033" y="600" width="3" height="1" fill="#C0C0C0"/>
<rect x="1039" y="600" width="3" height="1" fill="#C0C0C0"/>
<rect x="1045" y="600" width="3" height="1" fill="#C0C0C0"/>
<rect x="1051" y="600" width="3" height="1" fill="#C0C0C0"/>
<rect x="1057" y="600" width="3" height="1" fill="#C0C0C0"/>
<rect x="1063" y="600" width="3" height="1" fill="#C0C0C0"/>
<rect x="1069" y="600" width="3" height="1" fill="#C0C0C0"/>
<rect x="1075" y="600" width="3" height="1" fill="#C0C0C0"/>
<rect x="1081" y="600" width="3" height="1" fill="#C0C0C0"/>
<rect x="1087" y="600" width="3" height="1" fill="#C0C0C0"/>
<rect x="1093" y="600" width="3" height="1" fill="#C0C0C0"/>
<rect x="1099" y="600" width="3" height="1" fill="#C0C0C0"/>
<rect x="1105" y="600" width="3" height="1" fill="#C0C0C0"/>
<rect x="1111" y="600" width="3" height="1" fill="#C0C0C0"/>
<rect x="1117" y="600" width="3" height="1" fill="#C0C0C0"/>
<rect x="1123" y="600" width="3" height="1" fill="#C0C0C0"/>
<rect x="1129" y="600" width="3" height="1" fill="#C0C0C0"/>
<rect x="1135" y="600" width="3" height="1" fill="#C0C0C0"/>
<rect x="1141" y="600" width="3" height="1" fill="#C0C0C0"/>
<rect x="1147" y="600" width="3" height="1" fill="#C0C0C0"/>
<rect x="1153" y="600" width="3" height="1" fill="#C0C0C0"/>
<rect x="1159" y="600" width="3" height="1" fill="#C0C0C0"/>
<rect x="1165" y="600" width="3" height="1" fill="#C0C0C0"/>
<rect x="7" y="635" width="3" height="1" fill="#C0C0C0"/>
<rect x="13" y="635" width="3" height="1" fill="#C0C0C0"/>
<rect x="19" y="635" width="3" height="1" fill="#C0C0C0"/>
<rect x="25" y="635" width="3" height="1" fill="#C0C0C0"/>
<rect x="31" y="635" width="3" height="1" fill="#C0C0C0"/>
<rect x="37" y="635" width="3" height="1" fill="#C0C0C0"/>
<rect x="43" y="635" width="3" height="1" fill="#C0C0C0"/>
<rect x="49" y="635" width="3" height="1" fill="#C0C0C0"/>
<rect x="55" y="635" width="3" height="1" fill="#C0C0C0"/>
<rect x="61" y="635" width="3" height="1" fill="#C0C0C0"/>
<rect x="67" y="635" width="3" height="1" fill="#C0C0C0"/>
<rect x="73" y="635" width="3" height="1" fill="#C0C0C0"/>
<rect x="79" y="635" width="3" height="1" fill="#C0C0C0"/>
<rect x="85" y="635" width="3" height="1" fill="#C0C0C0"/>
<rect x="91" y="635" width="3" height="1" fill="#C0C0C0"/>
<rect x="97" y="635" width="3" height="1" fill="#C0C0C0"/>
<rect x="103" y="635" width="3" height="1" fill="#C0C0C0"/>
<rect x="109" y="635" width="3" height="1" fill="#C0C0C0"/>
<rect x="115" y="635" width="3" height="1" fill="#C0C0C0"/>
<rect x="121" y="635" width="3" height="1" fill="#C0C0C0"/>
<rect x="127" y="635" width="3" height="1" fill="#C0C0C0"/>
<rect x="133" y="635" width="3" height="1" fill="#C0C0C0"/>
<rect x="139" y="635" width="3" height="1" fill="#C0C0C0"/>
<rect x="145" y="635" width="3" height="1" fill="#C0C0C0"/>
<rect x="151" y="635" width="3" height="1" fill="#C0C0C0"/>
<rect x="157" y="635" width="3" height="1" fill="#C0C0C0"/>
<rect x="163" y="635" width="3" height="1" fill="#C0C0C0"/>
<rect x="169" y="635" width="3" height="1" fill="#C0C0C0"/>
<rect x="175" y="635" width="3" height="1" fill="#C0C0C0"/>
<rect x="181" y="635" width="3" height="1" fill="#C0C0C0"/>
<rect x="187" y="635" width="3" height="1" fill="#C0C0C0"/>
<rect x="193" y="635" width="3" height="1" fill="#C0C0C0"/>
<rect x="199" y="635" width="3" height="1" fill="#C0C0C0"/>
<rect x="205" y="635" width="3" height="1" fill="#C0C0C0"/>
<rect x="211" y="635" width="3" height="1" fill="#C0C0C0"/>
<rect x="217" y="635" width="3" height="1" fill="#C0C0C0"/>
<rect x="223" y="635" width="3" height="1" fill="#C0C0C0"/>
<rect x="229" y="635" width="3" height="1" fill="#C0C0C0"/>
<rect x="235" y="635" width="3" height="1" fill="#C0C0C0"/>
<rect x="241" y="635" width="3" height="1" fill="#C0C0C0"/>
<rect x="247" y="635" width="3" height="1" fill="#C0C0C0"/>
<rect x="253" y="635" width="3" height="1" fill="#C0C0C0"/>
<rect x="259" y="635" width="3" height="1" fill="#C0C0C0"/>
<rect x="265" y="635" width="3" height="1" fill="#C0C0C0"/>
<rect x="271" y="635" width="3" height="1" fill="#C0C0C0"/>
<rect x="277" y="635" width="3" height="1" fill="#C0C0C0"/>
<rect x="283" y="635" width="3" height="1" fill="#C0C0C0"/>
<rect x="289" y="635" width="3" height="1" fill="#C0C0C0"/>
<rect x="295" y="635" width="3" height="1" fill="#C0C0C0"/>
<rect x="301" y="635" width="3" height="1" fill="#C0C0C0"/>
<rect x="307" y="635" width="3" height="1" fill="#C0C0C0"/>
<rect x="313" y="635" width="3" height="1" fill="#C0C0C0"/>
<rect x="319" y="635" width="3" height="1" fill="#C0C0C0"/>
<rect x="325" y="635" width="3" height="1" fill="#C0C0C0"/>
<rect x="331" y="635" width="3" height="1" fill="#C0C0C0"/>
<rect x="337" y="635" width="3" height="1" fill="#C0C0C0"/>
<rect x="343" y="635" width="3" height="1" fill="#C0C0C0"/>
<rect x="349" y="635" width="3" height="1" fill="#C0C0C0"/>
<rect x="355" y="635" width="3" height="1" fill="#C0C0C0"/>
<rect x="361" y="635" width="3" height="1" fill="#C0C0C0"/>
<rect x="367" y="635" width="3" height="1" fill="#C0C0C0"/>
<rect x="373" y="635" width="3" height="1" fill="#C0C0C0"/>
<rect x="379" y="635" width="3" height="1" fill="#C0C0C0"/>
<rect x="385" y="635" width="3" height="1" fill="#C0C0C0"/>
<rect x="391" y="635" width="3" height="1" fill="#C0C0C0"/>
<rect x="397" y="635" width="3" height="1" fill="#C0C0C0"/>
<rect x="403" y="635" width="3" height="1" fill="#C0C0C0"/>
<rect x="409" y="635" width="3" height="1" fill="#C0C0C0"/>
<rect x="415" y="635" width="3" height="1" fill="#C0C0C0"/>
<rect x="421" y="635" width="3" height="1" fill="#C0C0C0"/>
<rect x="427" y="635" width="3" height="1" fill="#C0C0C0"/>
<rect x="433" y="635" width="3" height="1" fill="#C0C0C0"/>
<rect x="439" y="635" width="3" height="1" fill="#C0C0C0"/>
<rect x="445" y="635" width="3" height="1" fill="#C0C0C0"/>
<rect x="451" y="635" width="3" height="1" fill="#C0C0C0"/>
<rect x="457" y="635" width="3" height="1" fill="#C0C0C0"/>
<rect x="463" y="635" width="3" height="1" fill="#C0C0C0"/>
<rect x="469" y="635" width="3" height="1" fill="#C0C0C0"/>
<rect x="475" y="635" width="3" height="1" fill="#C0C0C0"/>
<rect x="481" y="635" width="3" height="1" fill="#C0C0C0"/>
<rect x="487" y="635" width="3" height="1" fill="#C0C0C0"/>
<rect x="493" y="635" width="3" height="1" fill="#C0C0C0"/>
<rect x="499" y="635" width="3" height="1" fill="#C0C0C0"/>
<rect x="505" y="635" width="3" height="1" fill="#C0C0C0"/>
<rect x="511" y="635" width="3" height="1" fill="#C0C0C0"/>
<rect x="517" y="635" width="3" height="1" fill="#C0C0C0"/>
<rect x="523" y="635" width="3" height="1" fill="#C0C0C0"/>
<rect x="529" y="635" width="3" height="1" fill="#C0C0C0"/>
<rect x="535" y="635" width="3" height="1" fill="#C0C0C0"/>
<rect x="541" y="635" width="3" height="1" fill="#C0C0C0"/>
<rect x="547" y="635" width="3" height="1" fill="#C0C0C0"/>
<rect x="553" y="635" width="3" height="1" fill="#C0C0C0"/>
<rect x="559" y="635" width="3" height="1" fill="#C0C0C0"/>
<rect x="565" y="635" width="3" height="1" fill="#C0C0C0"/>
<rect x="571" y="635" width="3" height="1" fill="#C0C0C0"/>
<rect x="577" y="635" width="3" height="1" fill="#C0C0C0"/>
<rect x="583" y="635" width="3" height="1" fill="#C0C0C0"/>
<rect x="589" y="635" width="3" height="1" fill="#C0C0C0"/>
<rect x="595" y="635" width="3" height="1" fill="#C0C0C0"/>
<rect x="601" y="635" width="3" height="1" fill="#C0C0C0"/>
<rect x="607" y="635" width="3" height="1" fill="#C0C0C0"/>
<rect x="613" y="635" width="3" height="1" fill="#C0C0C0"/>
<rect x="619" y="635" width="3" height="1" fill="#C0C0C0"/>
<rect x="625" y="635" width="3" height="1" fill="#C0C0C0"/>
<rect x="631" y="635" width="3" height="1" fill="#C0C0C0"/>
<rect x="637" y="635" width="3" height="1" fill="#C0C0C0"/>
<rect x="643" y="635" width="3" height="1" fill="#C0C0C0"/>
<rect x="649" y="635" width="3" height="1" fill="#C0C0C0"/>
<rect x="655" y="635" width="3" height="1" fill="#C0C0C0"/>
<rect x="661" y="635" width="3" height="1" fill="#C0C0C0"/>
<rect x="667" y="635" width="3" height="1" fill="#C0C0C0"/>
<rect x="673" y="635" width="3" height="1" fill="#C0C0C0"/>
<rect x="679" y="635" width="3" height="1" fill="#C0C0C0"/>
<rect x="685" y="635" width="3" height="1" fill="#C0C0C0"/>
<rect x="691" y="635" width="3" height="1" fill="#C0C0C0"/>
<rect x="697" y="635" width="3" height="1" fill="#C0C0C0"/>
<rect x="703" y="635" width="3" height="1" fill="#C0C0C0"/>
<rect x="709" y="635" width="3" height="1" fill="#C0C0C0"/>
<rect x="715" y="635" width="3" height="1" fill="#C0C0C0"/>
<rect x="721" y="635" width="3" height="1" fill="#C0C0C0"/>
<rect x="727" y="635" width="3" height="1" fill="#C0C0C0"/>
<rect x="733" y="635" width="3" height="1" fill="#C0C0C0"/>
<rect x="739" y="635" width="3" height="1" fill="#C0C0C0"/>
<rect x="745" y="635" width="3" height="1" fill="#C0C0C0"/>
<rect x="751" y="635" width="3" height="1" fill="#C0C0C0"/>
<rect x="757" y="635" width="3" height="1" fill="#C0C0C0"/>
<rect x="763" y="635" width="3" height="1" fill="#C0C0C0"/>
<rect x="769" y="635" width="3" height="1" fill="#C0C0C0"/>
<rect x="775" y="635" width="3" height="1" fill="#C0C0C0"/>
<rect x="781" y="635" width="3" height="1" fill="#C0C0C0"/>
<rect x="787" y="635" width="3" height="1" fill="#C0C0C0"/>
<rect x="793" y="635" width="3" height="1" fill="#C0C0C0"/>
<rect x="799" y="635" width="3" height="1" fill="#C0C0C0"/>
<rect x="805" y="635" width="3" height="1" fill="#C0C0C0"/>
<rect x="811" y="635" width="3" height="1" fill="#C0C0C0"/>
<rect x="817" y="635" width="3" height="1" fill="#C0C0C0"/>
<rect x="823" y="635" width="3" height="1" fill="#C0C0C0"/>
<rect x="829" y="635" width="3" height="1" fill="#C0C0C0"/>
<rect x="835" y="635" width="3" height="1" fill="#C0C0C0"/>
<rect x="841" y="635" width="3" height="1" fill="#C0C0C0"/>
<rect x="847" y="635" width="3" height="1" fill="#C0C0C0"/>
<rect x="853" y="635" width="3" height="1" fill="#C0C0C0"/>
<rect x="859" y="635" width="3" height="1" fill="#C0C0C0"/>
<rect x="865" y="635" width="3" height="1" fill="#C0C0C0"/>
<rect x="871" y="635" width="3" height="1" fill="#C0C0C0"/>
<rect x="877" y="635" width="3" height="1" fill="#C0C0C0"/>
<rect x="883" y="635" width="3" height="1" fill="#C0C0C0"/>
<rect x="889" y="635" width="3" height="1" fill="#C0C0C0"/>
<rect x="895" y="635" width="3" height="1" fill="#C0C0C0"/>
<rect x="901" y="635" width="3" height="1" fill="#C0C0C0"/>
<rect x="907" y="635" width="3" height="1" fill="#C0C0C0"/>
<rect x="913" y="635" width="3" height="1" fill="#C0C0C0"/>
<rect x="919" y="635" width="3" height="1" fill="#C0C0C0"/>
<rect x="925" y="635" width="3" height="1" fill="#C0C0C0"/>
<rect x="931" y="635" width="3" height="1" fill="#C0C0C0"/>
<rect x="937" y="635" width="3" height="1" fill="#C0C0C0"/>
<rect x="943" y="635" width="3" height="1" fill="#C0C0C0"/>
<rect x="949" y="635" width="3" height="1" fill="#C0C0C0"/>
<rect x="955" y="635" width="3" height="1" fill="#C0C0C0"/>
<rect x="961" y="635" width="3" height="1" fill="#C0C0C0"/>
<rect x="967" y="635" width="3" height="1" fill="#C0C0C0"/>
<rect x="973" y="635" width="3" height="1" fill="#C0C0C0"/>
<rect x="979" y="635" width="3" height="1" fill="#C0C0C0"/>
<rect x="985" y="635" width="3" height="1" fill="#C0C0C0"/>
<rect x="991" y="635" width="3" height="1" fill="#C0C0C0"/>
<rect x="997" y="635" width="3" height="1" fill="#C0C0C0"/>
<rect x="1003" y="635" width="3" height="1" fill="#C0C0C0"/>
<rect x="1009" y="635" width="3" height="1" fill="#C0C0C0"/>
<rect x="1015" y="635" width="3" height="1" fill="#C0C0C0"/>
<rect x="1021" y="635" width="3" height="1" fill="#C0C0C0"/>
<rect x="1027" y="635" width="3" height="1" fill="#C0C0C0"/>
<rect x="1033" y="635" width="3" height="1" fill="#C0C0C0"/>
<rect x="1039" y="635" width="3" height="1" fill="#C0C0C0"/>
<rect x="1045" y="635" width="3" height="1" fill="#C0C0C0"/>
<rect x="1051" y="635" width="3" height="1" fill="#C0C0C0"/>
<rect x="1057" y="635" width="3" height="1" fill="#C0C0C0"/>
<rect x="1063" y="635" width="3" height="1" fill="#C0C0C0"/>
<rect x="1069" y="635" width="3" height="1" fill="#C0C0C0"/>
<rect x="1075" y="635" width="3" height="1" fill="#C0C0C0"/>
<rect x="1081" y="635" width="3" height="1" fill="#C0C0C0"/>
<rect x="1087" y="635" width="3" height="1" fill="#C0C0C0"/>
<rect x="1093" y="635" width="3" height="1" fill="#C0C0C0"/>
<rect x="1099" y="635" width="3" height="1" fill="#C0C0C0"/>
<rect x="1105" y="635" width="3" height="1" fill="#C0C0C0"/>
<rect x="1111" y="635" width="3" height="1" fill="#C0C0C0"/>
<rect x="1117" y="635" width="3" height="1" fill="#C0C0C0"/>
<rect x="1123" y="635" width="3" height="1" fill="#C0C0C0"/>
<rect x="1129" y="635" width="3" height="1" fill="#C0C0C0"/>
<rect x="1135" y="635" width="3" height="1" fill="#C0C0C0"/>
<rect x="1141" y="635" width="3" height="1" fill="#C0C0C0"/>
<rect x="1147" y="635" width="3" height="1" fill="#C0C0C0"/>
<rect x="1153" y="635" width="3" height="1" fill="#C0C0C0"/>
<rect x="1159" y="635" width="3" height="1" fill="#C0C0C0"/>
<rect x="1165" y="635" width="3" height="1" fill="#C0C0C0"/>
</g>
<g clip-path="url(#crsi)" shape-rendering="crispEdges">
<path d="M65 596h2v1h-2zM63 597h2v1h-2zM66 597h1v1h-1zM61 598h2v1h-2zM66 598h1v1h-1zM877 598h2v1h-2zM59 599h2v1h-2zM67 599h1v1h-1zM875 599h2v1h-2zM879 599h1v1h-1zM906 599h1v1h-1zM53 600h6v1h-6zM67 600h1v1h-1zM874 600h1v1h-1zM880 600h1v1h-1zM904 600h2v1h-2zM907 600h1v1h-1zM51 601h2v1h-2zM67 601h1v1h-1zM873 601h1v1h-1zM881 601h1v1h-1zM903 601h1v1h-1zM907 601h1v1h-1zM46 602h5v1h-5zM67 602h1v1h-1zM873 602h1v1h-1zM882 602h1v1h-1zM900 602h3v1h-3zM908 602h1v1h-1zM46 603h1v1h-1zM67 603h1v1h-1zM872 603h1v1h-1zM883 603h1v1h-1zM894 603h6v1h-6zM908 603h1v1h-1zM916 603h3v1h-3zM45 604h1v1h-1zM67 604h1v1h-1zM720 604h3v1h-3zM871 604h1v1h-1zM884 604h1v1h-1zM892 604h2v1h-2zM909 604h1v1h-1zM913 604h3v1h-3zM918 604h1v1h-1zM45 605h1v1h-1zM68 605h1v1h-1zM718 605h2v1h-2zM723 605h1v1h-1zM858 605h2v1h-2zM864 605h4v1h-4zM871 605h1v1h-1zM885 605h1v1h-1zM891 605h1v1h-1zM909 605h1v1h-1zM911 605h2v1h-2zM919 605h1v1h-1zM30 606h1v1h-1zM45 606h1v1h-1zM68 606h1v1h-1zM270 606h1v1h-1zM310 606h1v1h-1zM317 606h2v1h-2zM716 606h2v1h-2zM724 606h2v1h-2zM857 606h1v1h-1zM860 606h4v1h-4zM868 606h3v1h-3zM886 606h5v1h-5zM910 606h1v1h-1zM919 606h1v1h-1zM28 607h2v1h-2zM31 607h2v1h-2zM44 607h1v1h-1zM68 607h1v1h-1zM269 607h1v1h-1zM271 607h1v1h-1zM309 607h1v1h-1zM311 607h2v1h-2zM315 607h2v1h-2zM319 607h1v1h-1zM715 607h1v1h-1zM726 607h1v1h-1zM856 607h1v1h-1zM919 607h1v1h-1zM18 608h1v1h-1zM27 608h1v1h-1zM33 608h2v1h-2zM44 608h1v1h-1zM68 608h1v1h-1zM246 608h1v1h-1zM268 608h1v1h-1zM272 608h1v1h-1zM309 608h1v1h-1zM313 608h2v1h-2zM320 608h2v1h-2zM714 608h1v1h-1zM727 608h1v1h-1zM855 608h1v1h-1zM919 608h1v1h-1zM16 609h2v1h-2zM19 609h2v1h-2zM24 609h3v1h-3zM35 609h1v1h-1zM43 609h1v1h-1zM68 609h1v1h-1zM232 609h4v1h-4zM244 609h2v1h-2zM247 609h1v1h-1zM253 609h2v1h-2zM267 609h1v1h-1zM273 609h1v1h-1zM308 609h1v1h-1zM322 609h1v1h-1zM712 609h2v1h-2zM727 609h1v1h-1zM846 609h2v1h-2zM852 609h3v1h-3zM920 609h1v1h-1zM15 610h1v1h-1zM21 610h3v1h-3zM35 610h1v1h-1zM43 610h1v1h-1zM68 610h1v1h-1zM230 610h2v1h-2zM236 610h4v1h-4zM243 610h1v1h-1zM248 610h2v1h-2zM251 610h2v1h-2zM255 610h1v1h-1zM265 610h2v1h-2zM274 610h2v1h-2zM308 610h1v1h-1zM322 610h1v1h-1zM711 610h1v1h-1zM728 610h1v1h-1zM845 610h1v1h-1zM848 610h4v1h-4zM920 610h1v1h-1zM6 611h9v1h-9zM36 611h1v1h-1zM43 611h1v1h-1zM69 611h1v1h-1zM230 611h1v1h-1zM240 611h3v1h-3zM250 611h1v1h-1zM256 611h1v1h-1zM263 611h2v1h-2zM276 611h4v1h-4zM307 611h1v1h-1zM323 611h1v1h-1zM710 611h1v1h-1zM729 611h1v1h-1zM845 611h1v1h-1zM920 611h1v1h-1zM37 612h1v1h-1zM42 612h1v1h-1zM69 612h1v1h-1zM229 612h1v1h-1zM256 612h1v1h-1zM261 612h2v1h-2zM280 612h3v1h-3zM307 612h1v1h-1zM323 612h1v1h-1zM709 612h1v1h-1zM729 612h1v1h-1zM844 612h1v1h-1zM920 612h1v1h-1zM37 613h1v1h-1zM40 613h3v1h-3zM69 613h1v1h-1zM229 613h1v1h-1zM257 613h1v1h-1zM259 613h2v1h-2zM283 613h1v1h-1zM294 613h1v1h-1zM305 613h2v1h-2zM323 613h1v1h-1zM709 613h1v1h-1zM730 613h1v1h-1zM843 613h1v1h-1zM921 613h1v1h-1zM38 614h2v1h-2zM69 614h1v1h-1zM138 614h1v1h-1zM229 614h1v1h-1zM258 614h1v1h-1zM283 614h1v1h-1zM293 614h1v1h-1zM295 614h1v1h-1zM303 614h2v1h-2zM324 614h1v1h-1zM708 614h1v1h-1zM731 614h1v1h-1zM737 614h2v1h-2zM834 614h2v1h-2zM843 614h1v1h-1zM921 614h1v1h-1zM69 615h1v1h-1zM81 615h3v1h-3zM137 615h1v1h-1zM139 615h1v1h-1zM228 615h1v1h-1zM284 615h1v1h-1zM293 615h1v1h-1zM295 615h1v1h-1zM302 615h1v1h-1zM324 615h1v1h-1zM336 615h3v1h-3zM413 615h2v1h-2zM707 615h1v1h-1zM732 615h2v1h-2zM735 615h2v1h-2zM739 615h2v1h-2zM748 615h3v1h-3zM833 615h1v1h-1zM836 615h7v1h-7zM921 615h1v1h-1zM69 616h1v1h-1zM79 616h2v1h-2zM84 616h7v1h-7zM137 616h1v1h-1zM140 616h1v1h-1zM228 616h1v1h-1zM285 616h1v1h-1zM292 616h1v1h-1zM296 616h1v1h-1zM301 616h1v1h-1zM325 616h1v1h-1zM334 616h2v1h-2zM339 616h2v1h-2zM344 616h3v1h-3zM353 616h2v1h-2zM393 616h3v1h-3zM411 616h2v1h-2zM415 616h1v1h-1zM707 616h1v1h-1zM734 616h1v1h-1zM741 616h7v1h-7zM751 616h1v1h-1zM825 616h2v1h-2zM833 616h1v1h-1zM921 616h1v1h-1zM70 617h1v1h-1zM78 617h1v1h-1zM90 617h1v1h-1zM114 617h2v1h-2zM120 617h3v1h-3zM136 617h1v1h-1zM141 617h1v1h-1zM228 617h1v1h-1zM285 617h1v1h-1zM292 617h1v1h-1zM296 617h1v1h-1zM301 617h1v1h-1zM325 617h1v1h-1zM333 617h1v1h-1zM341 617h3v1h-3zM347 617h2v1h-2zM351 617h2v1h-2zM355 617h1v1h-1zM391 617h2v1h-2zM396 617h3v1h-3zM406 617h5v1h-5zM416 617h2v1h-2zM425 617h2v1h-2zM694 617h5v1h-5zM705 617h2v1h-2zM752 617h1v1h-1zM823 617h2v1h-2zM827 617h1v1h-1zM832 617h1v1h-1zM922 617h1v1h-1zM70 618h1v1h-1zM77 618h1v1h-1zM91 618h1v1h-1zM113 618h1v1h-1zM116 618h4v1h-4zM123 618h1v1h-1zM129 618h2v1h-2zM136 618h1v1h-1zM142 618h9v1h-9zM227 618h1v1h-1zM286 618h1v1h-1zM291 618h1v1h-1zM297 618h1v1h-1zM300 618h1v1h-1zM325 618h1v1h-1zM332 618h1v1h-1zM349 618h2v1h-2zM356 618h1v1h-1zM390 618h1v1h-1zM398 618h1v1h-1zM406 618h1v1h-1zM418 618h2v1h-2zM423 618h2v1h-2zM427 618h1v1h-1zM618 618h1v1h-1zM693 618h1v1h-1zM699 618h2v1h-2zM703 618h2v1h-2zM752 618h1v1h-1zM821 618h2v1h-2zM828 618h1v1h-1zM832 618h1v1h-1zM922 618h1v1h-1zM924 618h3v1h-3zM70 619h1v1h-1zM77 619h1v1h-1zM91 619h1v1h-1zM112 619h1v1h-1zM124 619h2v1h-2zM127 619h2v1h-2zM131 619h1v1h-1zM135 619h1v1h-1zM151 619h1v1h-1zM200 619h3v1h-3zM227 619h1v1h-1zM287 619h2v1h-2zM291 619h1v1h-1zM297 619h1v1h-1zM299 619h1v1h-1zM326 619h1v1h-1zM332 619h1v1h-1zM356 619h1v1h-1zM364 619h12v1h-12zM389 619h1v1h-1zM399 619h1v1h-1zM405 619h1v1h-1zM420 619h3v1h-3zM427 619h1v1h-1zM617 619h1v1h-1zM619 619h1v1h-1zM646 619h2v1h-2zM693 619h1v1h-1zM701 619h2v1h-2zM753 619h1v1h-1zM819 619h2v1h-2zM828 619h1v1h-1zM831 619h1v1h-1zM922 619h2v1h-2zM70 620h1v1h-1zM76 620h1v1h-1zM92 620h1v1h-1zM111 620h1v1h-1zM126 620h1v1h-1zM132 620h2v1h-2zM135 620h1v1h-1zM152 620h1v1h-1zM198 620h2v1h-2zM203 620h1v1h-1zM227 620h1v1h-1zM289 620h2v1h-2zM298 620h2v1h-2zM326 620h2v1h-2zM331 620h1v1h-1zM357 620h1v1h-1zM360 620h4v1h-4zM376 620h3v1h-3zM388 620h1v1h-1zM399 620h1v1h-1zM405 620h1v1h-1zM428 620h1v1h-1zM437 620h2v1h-2zM446 620h1v1h-1zM616 620h1v1h-1zM619 620h1v1h-1zM645 620h1v1h-1zM648 620h3v1h-3zM692 620h1v1h-1zM754 620h2v1h-2zM814 620h5v1h-5zM829 620h1v1h-1zM831 620h1v1h-1zM71 621h1v1h-1zM75 621h1v1h-1zM92 621h1v1h-1zM108 621h3v1h-3zM134 621h1v1h-1zM152 621h1v1h-1zM197 621h1v1h-1zM204 621h2v1h-2zM208 621h4v1h-4zM226 621h1v1h-1zM298 621h1v1h-1zM328 621h3v1h-3zM358 621h2v1h-2zM379 621h1v1h-1zM388 621h1v1h-1zM399 621h1v1h-1zM405 621h1v1h-1zM429 621h1v1h-1zM435 621h2v1h-2zM439 621h1v1h-1zM445 621h2v1h-2zM616 621h1v1h-1zM620 621h1v1h-1zM638 621h1v1h-1zM644 621h1v1h-1zM651 621h1v1h-1zM692 621h1v1h-1zM756 621h3v1h-3zM786 621h1v1h-1zM798 621h1v1h-1zM813 621h1v1h-1zM830 621h1v1h-1zM72 622h2v1h-2zM75 622h1v1h-1zM92 622h1v1h-1zM106 622h2v1h-2zM153 622h1v1h-1zM197 622h1v1h-1zM206 622h2v1h-2zM212 622h8v1h-8zM224 622h3v1h-3zM380 622h1v1h-1zM387 622h1v1h-1zM400 622h1v1h-1zM404 622h1v1h-1zM429 622h1v1h-1zM432 622h3v1h-3zM440 622h1v1h-1zM444 622h1v1h-1zM447 622h1v1h-1zM610 622h2v1h-2zM615 622h1v1h-1zM620 622h1v1h-1zM637 622h1v1h-1zM639 622h1v1h-1zM644 622h1v1h-1zM652 622h1v1h-1zM684 622h3v1h-3zM691 622h1v1h-1zM759 622h1v1h-1zM785 622h1v1h-1zM787 622h1v1h-1zM797 622h1v1h-1zM799 622h1v1h-1zM812 622h1v1h-1zM74 623h1v1h-1zM93 623h1v1h-1zM98 623h1v1h-1zM104 623h2v1h-2zM154 623h1v1h-1zM173 623h2v1h-2zM196 623h1v1h-1zM220 623h4v1h-4zM381 623h1v1h-1zM384 623h3v1h-3zM400 623h1v1h-1zM404 623h1v1h-1zM430 623h2v1h-2zM441 623h1v1h-1zM443 623h1v1h-1zM447 623h1v1h-1zM477 623h3v1h-3zM594 623h1v1h-1zM608 623h2v1h-2zM612 623h3v1h-3zM621 623h1v1h-1zM636 623h1v1h-1zM640 623h2v1h-2zM643 623h1v1h-1zM653 623h1v1h-1zM682 623h2v1h-2zM687 623h2v1h-2zM691 623h1v1h-1zM760 623h1v1h-1zM784 623h1v1h-1zM788 623h1v1h-1zM796 623h1v1h-1zM800 623h1v1h-1zM812 623h1v1h-1zM93 624h1v1h-1zM96 624h2v1h-2zM99 624h2v1h-2zM103 624h1v1h-1zM155 624h1v1h-1zM171 624h2v1h-2zM175 624h1v1h-1zM189 624h2v1h-2zM195 624h1v1h-1zM382 624h2v1h-2zM401 624h1v1h-1zM403 624h1v1h-1zM442 624h1v1h-1zM447 624h1v1h-1zM470 624h2v1h-2zM475 624h2v1h-2zM480 624h4v1h-4zM594 624h2v1h-2zM607 624h1v1h-1zM621 624h1v1h-1zM635 624h1v1h-1zM642 624h1v1h-1zM654 624h1v1h-1zM681 624h1v1h-1zM689 624h2v1h-2zM761 624h1v1h-1zM784 624h1v1h-1zM789 624h1v1h-1zM796 624h1v1h-1zM800 624h1v1h-1zM811 624h1v1h-1zM94 625h2v1h-2zM101 625h2v1h-2zM156 625h1v1h-1zM166 625h5v1h-5zM176 625h2v1h-2zM180 625h4v1h-4zM187 625h2v1h-2zM191 625h2v1h-2zM195 625h1v1h-1zM401 625h1v1h-1zM403 625h1v1h-1zM448 625h1v1h-1zM469 625h1v1h-1zM472 625h3v1h-3zM484 625h3v1h-3zM506 625h5v1h-5zM529 625h6v1h-6zM593 625h1v1h-1zM596 625h1v1h-1zM606 625h1v1h-1zM622 625h6v1h-6zM632 625h3v1h-3zM655 625h1v1h-1zM681 625h1v1h-1zM762 625h2v1h-2zM783 625h1v1h-1zM790 625h2v1h-2zM795 625h1v1h-1zM801 625h1v1h-1zM810 625h1v1h-1zM94 626h1v1h-1zM157 626h1v1h-1zM165 626h1v1h-1zM178 626h2v1h-2zM184 626h3v1h-3zM193 626h2v1h-2zM401 626h1v1h-1zM403 626h1v1h-1zM448 626h1v1h-1zM469 626h1v1h-1zM487 626h1v1h-1zM505 626h1v1h-1zM511 626h1v1h-1zM527 626h2v1h-2zM535 626h2v1h-2zM593 626h1v1h-1zM596 626h1v1h-1zM605 626h1v1h-1zM628 626h4v1h-4zM655 626h1v1h-1zM680 626h1v1h-1zM764 626h4v1h-4zM782 626h1v1h-1zM792 626h3v1h-3zM802 626h1v1h-1zM809 626h1v1h-1zM158 627h1v1h-1zM165 627h1v1h-1zM402 627h1v1h-1zM448 627h1v1h-1zM468 627h1v1h-1zM488 627h1v1h-1zM504 627h1v1h-1zM512 627h2v1h-2zM526 627h1v1h-1zM537 627h3v1h-3zM592 627h1v1h-1zM597 627h1v1h-1zM604 627h1v1h-1zM656 627h1v1h-1zM679 627h1v1h-1zM768 627h3v1h-3zM781 627h1v1h-1zM803 627h1v1h-1zM809 627h1v1h-1zM159 628h1v1h-1zM164 628h1v1h-1zM402 628h1v1h-1zM449 628h1v1h-1zM468 628h1v1h-1zM488 628h1v1h-1zM503 628h1v1h-1zM514 628h2v1h-2zM525 628h1v1h-1zM540 628h3v1h-3zM582 628h1v1h-1zM592 628h1v1h-1zM598 628h1v1h-1zM604 628h1v1h-1zM656 628h1v1h-1zM679 628h1v1h-1zM771 628h2v1h-2zM780 628h1v1h-1zM804 628h1v1h-1zM808 628h1v1h-1zM160 629h1v1h-1zM163 629h1v1h-1zM449 629h1v1h-1zM467 629h1v1h-1zM489 629h1v1h-1zM502 629h1v1h-1zM516 629h3v1h-3zM525 629h1v1h-1zM543 629h1v1h-1zM581 629h1v1h-1zM583 629h2v1h-2zM591 629h1v1h-1zM599 629h2v1h-2zM603 629h1v1h-1zM657 629h1v1h-1zM678 629h1v1h-1zM773 629h3v1h-3zM779 629h1v1h-1zM804 629h1v1h-1zM807 629h1v1h-1zM161 630h1v1h-1zM163 630h1v1h-1zM449 630h1v1h-1zM467 630h1v1h-1zM490 630h2v1h-2zM501 630h1v1h-1zM519 630h1v1h-1zM524 630h1v1h-1zM544 630h2v1h-2zM580 630h1v1h-1zM585 630h2v1h-2zM591 630h1v1h-1zM601 630h2v1h-2zM657 630h1v1h-1zM678 630h1v1h-1zM776 630h3v1h-3zM805 630h1v1h-1zM807 630h1v1h-1zM162 631h1v1h-1zM450 631h1v1h-1zM462 631h5v1h-5zM492 631h3v1h-3zM500 631h1v1h-1zM520 631h1v1h-1zM523 631h1v1h-1zM546 631h1v1h-1zM579 631h1v1h-1zM587 631h2v1h-2zM590 631h1v1h-1zM658 631h1v1h-1zM677 631h1v1h-1zM806 631h1v1h-1zM450 632h1v1h-1zM460 632h2v1h-2zM495 632h2v1h-2zM499 632h1v1h-1zM521 632h1v1h-1zM523 632h1v1h-1zM547 632h2v1h-2zM568 632h11v1h-11zM589 632h2v1h-2zM658 632h1v1h-1zM677 632h1v1h-1zM451 633h1v1h-1zM459 633h1v1h-1zM497 633h2v1h-2zM522 633h1v1h-1zM549 633h6v1h-6zM566 633h2v1h-2zM659 633h2v1h-2zM676 633h1v1h-1zM452 634h2v1h-2zM456 634h3v1h-3zM555 634h1v1h-1zM565 634h1v1h-1zM661 634h2v1h-2zM676 634h1v1h-1zM454 635h2v1h-2zM556 635h1v1h-1zM565 635h1v1h-1zM663 635h1v1h-1zM676 635h1v1h-1zM556 636h1v1h-1zM564 636h1v1h-1zM664 636h1v1h-1zM675 636h1v1h-1zM557 637h1v1h-1zM563 637h1v1h-1zM665 637h1v1h-1zM675 637h1v1h-1zM558 638h2v1h-2zM563 638h1v1h-1zM666 638h1v1h-1zM674 638h1v1h-1zM560 639h3v1h-3zM667 639h2v1h-2zM672 639h3v1h-3zM669 640h3v1h-3z" fill="#1E90FF"/>
</g>
<text x="10" y="586.15" font-size="9.8" fill="#000" stroke="#000" stroke-width="0.15" textLength="68" lengthAdjust="spacingAndGlyphs">RSI(14) 49.6518</text>
<rect x="1169" y="575" width="1" height="1" fill="#000"/>
<rect x="1169" y="660" width="1" height="1" fill="#000"/>
<text x="1172" y="584.15" font-size="9.8" fill="#000" stroke="#000" stroke-width="0.15" textLength="15" lengthAdjust="spacingAndGlyphs">100</text>
<text x="1172" y="604.15" font-size="9.8" fill="#000" stroke="#000" stroke-width="0.15" textLength="10" lengthAdjust="spacingAndGlyphs">70</text>
<text x="1172" y="639.15" font-size="9.8" fill="#000" stroke="#000" stroke-width="0.15" textLength="10" lengthAdjust="spacingAndGlyphs">30</text>
<text x="1172" y="658.15" font-size="9.8" fill="#000" stroke="#000" stroke-width="0.15" textLength="5" lengthAdjust="spacingAndGlyphs">0</text>
<rect x="6" y="662" width="1" height="3" fill="#000"/>
<text x="5.4" y="674.15" font-size="9.8" fill="#000" stroke="#000" stroke-width="0.15" textLength="46" lengthAdjust="spacingAndGlyphs">8 Feb 2021</text>
<rect x="70" y="662" width="1" height="3" fill="#000"/>
<text x="69.4" y="674.15" font-size="9.8" fill="#000" stroke="#000" stroke-width="0.15" textLength="51" lengthAdjust="spacingAndGlyphs">26 Feb 2021</text>
<rect x="134" y="662" width="1" height="3" fill="#000"/>
<text x="133.4" y="674.15" font-size="9.8" fill="#000" stroke="#000" stroke-width="0.15" textLength="51" lengthAdjust="spacingAndGlyphs">17 Mar 2021</text>
<rect x="198" y="662" width="1" height="3" fill="#000"/>
<text x="197.4" y="674.15" font-size="9.8" fill="#000" stroke="#000" stroke-width="0.15" textLength="46" lengthAdjust="spacingAndGlyphs">5 Apr 2021</text>
<rect x="262" y="662" width="1" height="3" fill="#000"/>
<text x="261.4" y="674.15" font-size="9.8" fill="#000" stroke="#000" stroke-width="0.15" textLength="50" lengthAdjust="spacingAndGlyphs">23 Apr 2021</text>
<rect x="326" y="662" width="1" height="3" fill="#000"/>
<text x="325.4" y="674.15" font-size="9.8" fill="#000" stroke="#000" stroke-width="0.15" textLength="54" lengthAdjust="spacingAndGlyphs">12 May 2021</text>
<rect x="390" y="662" width="1" height="3" fill="#000"/>
<text x="389.4" y="674.15" font-size="9.8" fill="#000" stroke="#000" stroke-width="0.15" textLength="54" lengthAdjust="spacingAndGlyphs">31 May 2021</text>
<rect x="454" y="662" width="1" height="3" fill="#000"/>
<text x="453.4" y="674.15" font-size="9.8" fill="#000" stroke="#000" stroke-width="0.15" textLength="48.7" lengthAdjust="spacingAndGlyphs">18 Jun 2021</text>
<rect x="518" y="662" width="1" height="3" fill="#000"/>
<text x="517.4" y="674.15" font-size="9.8" fill="#000" stroke="#000" stroke-width="0.15" textLength="41.5" lengthAdjust="spacingAndGlyphs">7 Jul 2021</text>
<rect x="582" y="662" width="1" height="3" fill="#000"/>
<text x="581.4" y="674.15" font-size="9.8" fill="#000" stroke="#000" stroke-width="0.15" textLength="45.8" lengthAdjust="spacingAndGlyphs">26 Jul 2021</text>
<rect x="646" y="662" width="1" height="3" fill="#000"/>
<text x="645.4" y="674.15" font-size="9.8" fill="#000" stroke="#000" stroke-width="0.15" textLength="52" lengthAdjust="spacingAndGlyphs">13 Aug 2021</text>
<rect x="710" y="662" width="1" height="3" fill="#000"/>
<text x="709.4" y="674.15" font-size="9.8" fill="#000" stroke="#000" stroke-width="0.15" textLength="46.8" lengthAdjust="spacingAndGlyphs">1 Sep 2021</text>
<rect x="774" y="662" width="1" height="3" fill="#000"/>
<text x="773.4" y="674.15" font-size="9.8" fill="#000" stroke="#000" stroke-width="0.15" textLength="51.6" lengthAdjust="spacingAndGlyphs">20 Sep 2021</text>
<rect x="838" y="662" width="1" height="3" fill="#000"/>
<text x="837.4" y="674.15" font-size="9.8" fill="#000" stroke="#000" stroke-width="0.15" textLength="45.5" lengthAdjust="spacingAndGlyphs">8 Oct 2021</text>
<rect x="902" y="662" width="1" height="3" fill="#000"/>
<text x="901.4" y="674.15" font-size="9.8" fill="#000" stroke="#000" stroke-width="0.15" textLength="49.8" lengthAdjust="spacingAndGlyphs">27 Oct 2021</text>
<rect x="0" y="684" width="111" height="1" fill="#000"/>
<rect x="215" y="684" width="995" height="1" fill="#000"/>
<rect x="3" y="685" width="108" height="1" fill="#FFFFFF"/>
<rect x="215" y="685" width="995" height="1" fill="#FFFFFF"/>
<rect x="1" y="684" width="1" height="20" fill="#A0A0A0"/>
<rect x="2" y="685" width="1" height="19" fill="#696969"/>
<rect x="3" y="685" width="1" height="19" fill="#FFFFFF"/>
<rect x="0" y="704" width="1210" height="1" fill="#FFFFFF"/>
<rect x="112" y="684" width="102" height="18" fill="#FFFFFF"/>
<rect x="111" y="684" width="1" height="19" fill="#000"/>
<rect x="214" y="684" width="1" height="19" fill="#000"/>
<rect x="111" y="702" width="104" height="1" fill="#000"/>
<rect x="112" y="703" width="104" height="1" fill="#D8D8D8"/>
<rect x="215" y="686" width="1" height="18" fill="#D8D8D8"/>
<text x="19.8" y="699" font-size="12.3" fill="#6E6E6E" textLength="78.9" lengthAdjust="spacingAndGlyphs">EURUSD,Daily</text>
<text x="225.2" y="699" font-size="12.3" fill="#6E6E6E" textLength="66.6" lengthAdjust="spacingAndGlyphs">USDCHF,H4</text>
<text x="314.5" y="699" font-size="12.3" fill="#6E6E6E" textLength="79.8" lengthAdjust="spacingAndGlyphs">USDCAD,Daily</text>
<text x="417.4" y="699" font-size="12.3" fill="#6E6E6E" textLength="82.6" lengthAdjust="spacingAndGlyphs">USDCNH,Daily</text>
<text x="523.6" y="699" font-size="12.3" fill="#6E6E6E" textLength="50.8" lengthAdjust="spacingAndGlyphs">UKOil,H1</text>
<text x="597.4" y="699" font-size="12.3" fill="#6E6E6E" textLength="46.2" lengthAdjust="spacingAndGlyphs">DJ30,H1</text>
<text x="666.8" y="699" font-size="12.3" fill="#6E6E6E" textLength="76.8" lengthAdjust="spacingAndGlyphs">USDX,Weekly</text>
<text x="766.2" y="699" font-size="12.3" fill="#6E6E6E" textLength="80.5" lengthAdjust="spacingAndGlyphs">XAUUSD,Daily</text>
<text x="871.5" y="699" font-size="12.3" fill="#6E6E6E" textLength="66.9" lengthAdjust="spacingAndGlyphs">GBPUSD,H1</text>
<text x="962.4" y="699" font-size="12.3" fill="#6E6E6E" textLength="77.6" lengthAdjust="spacingAndGlyphs">USDX,Weekly</text>
<text x="122.6" y="699" font-size="12.3" fill="#000" textLength="81.4" lengthAdjust="spacingAndGlyphs">AUDUSD,Daily</text>
<rect x="303" y="687" width="1" height="14" fill="#6D6D6D"/>
<rect x="407" y="687" width="1" height="14" fill="#6D6D6D"/>
<rect x="511" y="687" width="1" height="14" fill="#6D6D6D"/>
<rect x="587" y="687" width="1" height="14" fill="#6D6D6D"/>
<rect x="655" y="687" width="1" height="14" fill="#6D6D6D"/>
<rect x="755" y="687" width="1" height="14" fill="#6D6D6D"/>
<rect x="859" y="687" width="1" height="14" fill="#6D6D6D"/>
<rect x="951" y="687" width="1" height="14" fill="#6D6D6D"/>
<rect x="1051" y="687" width="1" height="14" fill="#6D6D6D"/>
<path d="M1187 689.5 L1187 696.5 L1183.5 693 Z" fill="#8C8C8C"/>
<path d="M1203 689.5 L1203 696.5 L1206.5 693 Z" fill="#8C8C8C"/>
<rect x="7" y="43" width="223" height="61" fill="#FFFFFF"/>
<rect x="9" y="69" width="109" height="33" fill="#B20000"/>
<rect x="10" y="70" width="107" height="31" fill="url(#gbox)"/>
<rect x="120" y="69" width="108" height="33" fill="#B20000"/>
<rect x="121" y="70" width="106" height="31" fill="url(#gbox)"/>
<rect x="9" y="45" width="52" height="25" fill="#B20000"/>
<rect x="10" y="46" width="50" height="24" fill="url(#gtab)"/>
<rect x="176" y="45" width="52" height="25" fill="#B20000"/>
<rect x="177" y="46" width="50" height="24" fill="url(#gtab)"/>
<rect x="10" y="69" width="50" height="1" fill="#DA2A2A"/>
<rect x="177" y="69" width="50" height="1" fill="#DA2A2A"/>
<rect x="13" y="68" width="45" height="1" fill="#8E0000"/>
<rect x="13" y="69" width="45" height="1" fill="#F06A6A"/>
<rect x="180" y="68" width="45" height="1" fill="#8E0000"/>
<rect x="180" y="69" width="45" height="1" fill="#F06A6A"/>
<rect x="63" y="45" width="111" height="22" fill="#A6A9AF"/>
<rect x="64" y="46" width="109" height="20" fill="#FFFFFF"/>
<rect x="65" y="47" width="18" height="18" fill="url(#gbtn)"/>
<rect x="84" y="46" width="1" height="20" fill="#A6A9AF"/>
<rect x="154" y="47" width="18" height="18" fill="url(#gbtn)"/>
<rect x="152" y="46" width="1" height="20" fill="#A6A9AF"/>
<path d="M70.5 54 L76.5 54 L73.5 57.2 Z" fill="url(#garr)"/>
<path d="M159.5 57 L165.5 57 L162.5 53.8 Z" fill="url(#garr)"/>
<text x="148.5" y="60" font-size="12" fill="#000" textLength="23" lengthAdjust="spacingAndGlyphs" text-anchor="end">3.00</text>
<text x="21.4" y="61" font-size="12.5" fill="#FFFFFF" textLength="25.4" lengthAdjust="spacingAndGlyphs">SELL</text>
<text x="189.4" y="61" font-size="12.5" fill="#FFFFFF" textLength="23.3" lengthAdjust="spacingAndGlyphs">BUY</text>
<text x="28.8" y="97" font-size="12.5" fill="#FFFFFF" textLength="23.8" lengthAdjust="spacingAndGlyphs" font-weight="bold">0.74</text>
<text x="138.8" y="97" font-size="12.5" fill="#FFFFFF" textLength="23.8" lengthAdjust="spacingAndGlyphs" font-weight="bold">0.74</text>
<text x="57.4" y="97" font-size="35" fill="#FFFFFF" textLength="33" lengthAdjust="spacingAndGlyphs">32</text>
<text x="168.8" y="97" font-size="35" fill="#FFFFFF" textLength="32" lengthAdjust="spacingAndGlyphs">33</text>
<text x="96.2" y="81" font-size="11" fill="#FFFFFF" textLength="7" lengthAdjust="spacingAndGlyphs" font-weight="bold">4</text>
<text x="207.6" y="81" font-size="11" fill="#FFFFFF" textLength="6.2" lengthAdjust="spacingAndGlyphs" font-weight="bold">9</text>
</svg>
</body></html>
